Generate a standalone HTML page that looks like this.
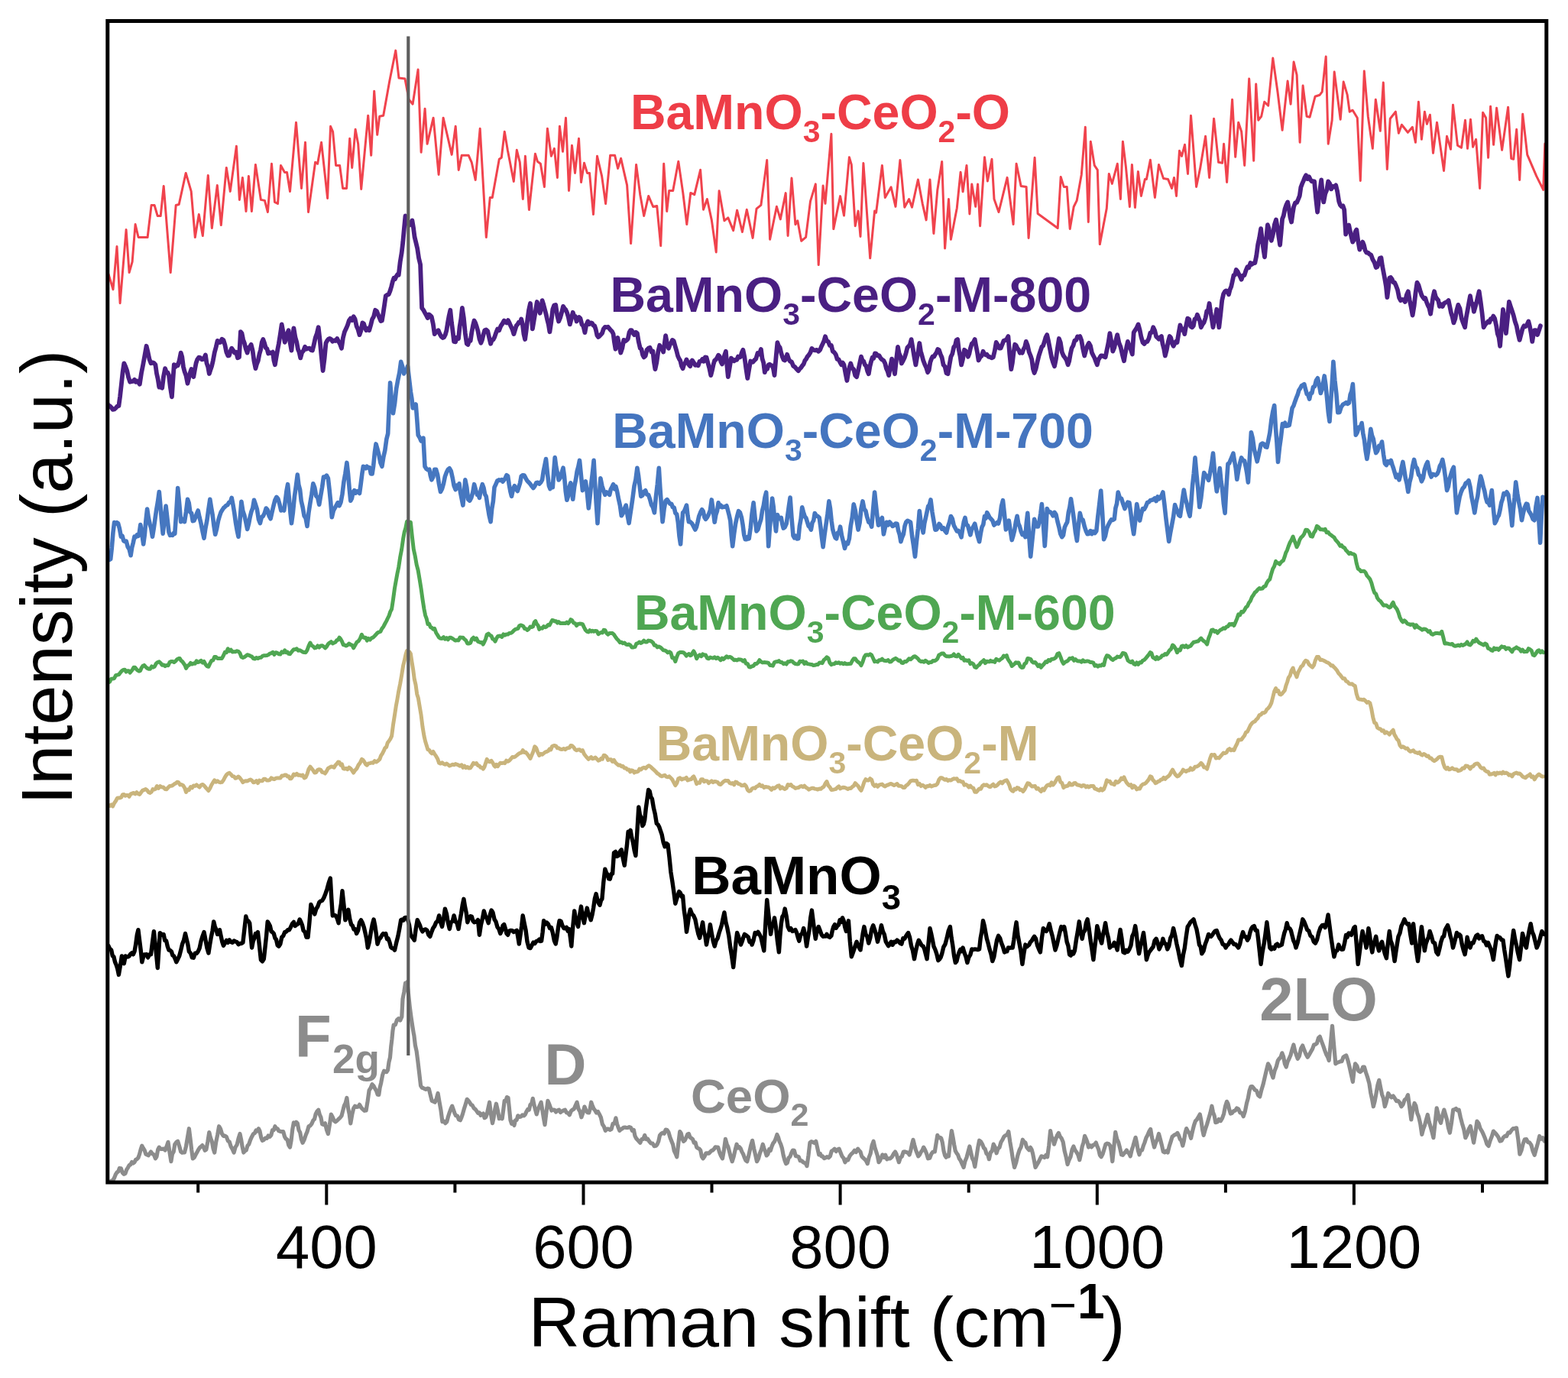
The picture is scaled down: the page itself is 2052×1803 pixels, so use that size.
<!DOCTYPE html>
<html><head><meta charset="utf-8"><title>Raman spectra</title>
<style>html,body{margin:0;padding:0;background:#fff;}svg{display:block;}</style>
</head><body>
<svg width="2052" height="1803" viewBox="0 0 2052 1803">
<rect width="2052" height="1803" fill="#fff"/>
<defs><clipPath id="c"><rect x="140.8" y="27.5" width="1883.0" height="1519.5"/></clipPath></defs>
<g clip-path="url(#c)" fill="none" stroke-linejoin="round" stroke-linecap="round">
<polyline points="145.7,1545.1 147.6,1544.6 149.6,1541.1 151.5,1536.3 153.1,1533.8 154.8,1532.9 156.4,1528.5 158.4,1528.9 160.3,1534.3 162.3,1536.3 164.0,1535.4 165.7,1530.4 167.4,1527.8 169.1,1524.6 170.8,1523.8 172.6,1520.5 174.3,1522.0 176.0,1520.7 177.6,1517.4 179.3,1516.6 180.9,1514.8 182.5,1510.3 184.2,1503.9 185.8,1499.2 187.5,1502.4 189.2,1505.2 190.9,1510.1 192.6,1510.9 194.2,1511.8 195.9,1509.2 197.5,1507.0 199.5,1509.7 201.4,1510.7 203.4,1515.8 205.0,1513.3 206.7,1504.0 208.3,1501.1 210.2,1503.4 212.2,1503.4 214.2,1503.1 216.1,1505.0 218.1,1500.0 220.0,1494.3 221.9,1507.0 223.9,1519.7 225.5,1509.9 227.2,1507.0 228.8,1497.2 230.8,1494.5 232.7,1493.3 234.7,1499.7 236.7,1507.0 238.3,1508.2 239.9,1508.0 241.5,1508.0 243.5,1499.8 245.4,1488.5 247.4,1476.7 249.0,1489.5 250.7,1504.3 252.3,1515.8 254.3,1514.3 256.2,1510.6 258.2,1507.0 259.8,1503.9 261.5,1501.5 263.1,1500.1 264.8,1498.6 266.5,1501.2 268.2,1505.2 269.9,1504.1 271.9,1493.4 273.8,1481.5 275.5,1488.8 277.2,1493.1 279.0,1502.6 280.7,1508.0 282.7,1494.4 284.6,1485.2 286.6,1473.7 288.6,1477.0 290.5,1483.5 292.4,1486.3 294.4,1486.1 296.3,1487.4 298.3,1492.7 300.2,1493.9 302.2,1500.2 304.1,1503.4 306.1,1508.0 308.1,1500.9 310.1,1497.9 312.0,1489.9 314.0,1483.5 315.6,1491.0 317.2,1500.8 318.8,1508.0 320.5,1505.8 322.2,1505.0 324.0,1499.0 325.7,1497.2 327.7,1491.3 329.6,1487.2 331.6,1483.5 333.3,1482.7 335.0,1479.0 336.7,1480.0 338.4,1476.7 340.0,1479.9 341.7,1488.3 343.3,1492.3 345.3,1491.4 347.2,1489.1 349.2,1489.4 351.1,1486.0 353.1,1487.4 354.8,1485.4 356.5,1478.7 358.2,1478.8 359.9,1473.7 361.5,1476.6 363.2,1476.9 364.8,1479.6 366.8,1480.4 368.7,1480.7 370.7,1480.6 372.5,1487.2 374.2,1490.1 376.0,1491.0 377.7,1498.1 379.5,1501.1 381.1,1492.2 382.8,1477.4 384.4,1468.8 386.0,1471.2 387.7,1468.2 389.3,1469.8 391.0,1478.6 392.7,1481.8 394.4,1490.9 396.1,1495.2 398.1,1491.4 400.1,1485.3 402.0,1480.8 404.0,1473.7 405.9,1473.0 407.9,1470.4 409.8,1465.9 411.5,1464.4 413.2,1457.4 415.0,1454.0 416.7,1452.2 418.3,1458.3 420.0,1462.1 421.6,1470.8 423.6,1471.6 425.5,1469.8 427.4,1478.0 429.4,1483.5 431.4,1471.6 433.3,1458.1 435.3,1461.8 437.2,1466.3 439.2,1467.8 441.1,1466.3 443.1,1464.2 445.1,1462.4 447.0,1460.0 448.7,1453.4 450.4,1446.7 452.2,1443.1 453.9,1436.5 455.5,1449.8 457.2,1457.8 458.8,1469.8 460.8,1458.2 462.7,1450.2 464.6,1447.2 466.6,1448.5 468.6,1448.2 470.5,1445.3 472.6,1449.1 474.8,1451.3 477.0,1453.3 479.1,1453.0 481.1,1440.9 483.1,1426.6 485.1,1423.5 487.0,1418.7 488.9,1420.7 490.9,1424.6 492.5,1427.2 494.2,1432.2 495.8,1432.4 497.2,1422.8 498.7,1416.8 500.6,1406.7 502.6,1401.1 504.2,1401.8 505.9,1402.6 507.5,1400.1 509.0,1389.5 510.5,1383.5 511.7,1369.6 512.9,1359.8 514.0,1348.3 515.2,1341.0 517.3,1341.0 519.4,1334.7 521.6,1332.7 523.7,1335.1 525.8,1330.5 527.0,1307.0 528.8,1297.9 530.5,1286.4 531.6,1286.8 532.8,1285.0 534.6,1301.6 536.4,1318.7 538.1,1331.4 539.9,1343.5 541.6,1353.9 541.8,1354.1 543.4,1367.6 545.1,1375.2 546.7,1387.4 548.7,1404.2 550.6,1420.7 552.2,1423.2 553.9,1423.6 555.5,1424.6 557.4,1425.4 559.4,1424.1 561.3,1424.6 563.2,1432.3 565.2,1440.3 567.2,1441.2 569.2,1442.2 571.2,1437.5 573.1,1430.5 575.0,1441.8 577.0,1452.8 578.9,1467.7 580.9,1466.8 582.8,1469.7 584.8,1467.7 586.5,1461.0 588.2,1455.8 590.0,1450.9 591.7,1447.1 593.3,1451.6 595.0,1456.6 596.6,1459.8 598.5,1460.1 600.5,1464.9 602.4,1465.7 603.9,1462.2 605.4,1457.9 607.3,1451.0 609.3,1444.7 611.2,1438.3 612.9,1440.0 614.7,1442.5 616.4,1445.4 618.1,1446.1 620.1,1449.9 622.0,1451.3 624.0,1454.0 625.7,1456.4 627.4,1455.8 629.1,1459.4 630.8,1457.9 632.4,1456.9 634.1,1462.7 635.7,1461.8 637.3,1457.6 639.0,1449.5 640.6,1442.2 642.5,1458.1 644.5,1469.6 646.1,1462.2 647.8,1451.0 649.4,1444.2 651.3,1452.5 653.3,1463.7 655.2,1462.4 657.2,1463.7 658.7,1452.5 660.2,1440.3 661.8,1440.9 663.4,1435.6 665.0,1436.3 666.5,1450.8 668.0,1465.7 669.6,1470.3 671.3,1468.0 672.9,1472.5 674.5,1465.8 676.2,1465.4 677.8,1459.8 679.8,1461.4 681.7,1461.0 683.6,1458.9 685.6,1459.8 687.3,1458.1 689.0,1454.4 690.7,1451.5 692.4,1452.0 694.0,1445.3 695.7,1444.1 697.3,1437.3 698.9,1445.4 700.6,1452.0 702.2,1457.9 704.2,1451.2 706.1,1446.9 708.1,1442.2 709.7,1451.7 711.4,1462.6 713.0,1471.6 715.0,1455.1 716.9,1440.3 718.5,1444.0 720.2,1448.6 721.8,1453.0 723.8,1452.0 725.7,1452.4 727.6,1455.0 729.6,1453.0 731.6,1452.2 733.5,1455.4 735.5,1453.8 737.5,1453.0 739.5,1452.2 741.4,1455.7 743.3,1456.4 745.3,1458.8 747.3,1453.7 749.2,1452.1 751.2,1451.0 753.1,1446.6 755.1,1442.2 757.0,1450.9 759.0,1454.4 760.9,1461.8 762.9,1456.2 764.9,1448.1 766.8,1452.6 768.8,1455.7 770.7,1455.9 772.2,1451.0 773.7,1442.2 775.4,1447.0 777.1,1450.9 778.8,1452.9 780.5,1455.9 782.5,1454.4 784.4,1457.9 786.4,1462.1 788.3,1470.8 790.3,1473.9 792.3,1479.4 794.2,1477.0 796.2,1477.2 798.1,1478.4 800.1,1477.4 802.0,1470.4 804.0,1470.1 805.9,1462.8 807.5,1470.5 809.2,1475.4 810.8,1479.4 812.6,1477.5 814.3,1476.8 816.1,1475.3 817.8,1475.0 819.6,1475.5 821.6,1475.5 823.5,1474.5 825.5,1475.4 827.4,1479.4 829.4,1478.4 830.9,1486.1 832.4,1489.2 834.2,1491.3 836.0,1493.2 837.8,1495.2 839.8,1490.7 841.7,1490.5 843.7,1485.5 845.7,1490.6 847.6,1490.1 849.6,1493.3 851.8,1495.9 854.0,1496.0 856.2,1499.6 858.4,1499.2 860.1,1497.2 861.8,1493.2 863.5,1485.4 865.2,1483.5 867.2,1482.2 869.2,1483.3 871.1,1478.1 873.1,1478.6 875.0,1481.7 877.0,1488.5 878.9,1493.3 880.6,1497.5 882.3,1505.9 884.1,1509.6 885.8,1513.8 887.8,1496.1 889.7,1480.6 891.3,1482.8 893.0,1490.1 894.6,1493.3 896.3,1492.0 898.0,1488.2 899.7,1484.2 901.4,1483.5 903.1,1488.1 904.8,1489.2 906.6,1490.8 908.3,1495.2 910.0,1494.8 911.7,1501.1 913.4,1502.4 915.1,1503.1 916.7,1505.1 918.4,1513.4 920.0,1515.8 922.0,1513.2 923.9,1508.8 925.9,1508.9 927.6,1509.2 929.3,1507.4 931.0,1505.7 932.7,1505.0 934.4,1503.4 936.2,1500.8 937.9,1501.1 939.6,1501.1 941.6,1507.8 943.5,1512.5 945.5,1515.8 947.5,1504.2 949.4,1490.4 951.2,1497.0 952.9,1500.6 954.7,1507.4 956.4,1514.2 958.2,1519.7 960.2,1513.2 962.1,1504.7 964.1,1497.2 965.8,1502.0 967.5,1500.7 969.2,1502.7 970.9,1507.0 972.6,1510.0 974.3,1514.6 976.0,1518.5 977.7,1519.7 979.4,1513.5 981.2,1505.4 982.9,1497.9 984.6,1492.3 986.6,1502.6 988.5,1510.7 990.5,1519.7 992.5,1516.0 994.4,1509.0 996.3,1504.3 998.3,1497.2 999.9,1502.6 1001.6,1506.9 1003.2,1511.9 1004.9,1510.2 1006.6,1503.7 1008.3,1505.4 1010.0,1500.1 1011.7,1495.9 1013.5,1493.8 1015.2,1489.7 1016.9,1484.5 1018.5,1488.1 1020.2,1493.9 1021.8,1497.2 1023.5,1502.6 1025.2,1511.8 1026.9,1518.0 1028.6,1522.6 1030.4,1521.3 1032.1,1514.9 1033.9,1513.4 1035.6,1508.9 1037.4,1505.0 1039.4,1505.4 1041.3,1512.7 1043.3,1512.9 1045.2,1513.6 1047.2,1518.7 1049.2,1518.8 1051.1,1520.7 1052.7,1521.5 1054.4,1522.4 1056.0,1525.6 1058.0,1511.5 1059.9,1495.2 1061.9,1493.7 1063.8,1494.4 1065.8,1495.4 1067.8,1493.3 1069.8,1502.4 1071.7,1510.9 1073.3,1509.4 1075.0,1512.8 1076.6,1512.9 1078.5,1515.6 1080.5,1514.8 1082.5,1513.6 1084.4,1514.8 1086.4,1512.7 1088.3,1506.0 1090.3,1505.0 1092.2,1503.2 1094.2,1506.5 1096.1,1504.0 1098.1,1503.1 1100.0,1508.0 1102.0,1512.9 1104.0,1515.3 1105.9,1520.7 1107.9,1517.2 1109.8,1517.8 1111.8,1512.9 1114.0,1510.0 1116.1,1508.3 1118.3,1505.2 1120.4,1507.4 1122.6,1503.1 1124.3,1505.3 1126.0,1507.0 1127.7,1512.9 1129.4,1514.8 1131.4,1516.6 1133.3,1518.5 1135.3,1522.6 1137.2,1514.4 1139.2,1509.2 1141.1,1498.6 1143.1,1493.3 1144.8,1501.1 1146.5,1506.2 1148.3,1512.1 1150.0,1520.7 1151.6,1518.6 1153.3,1514.6 1154.9,1510.9 1156.9,1514.4 1158.8,1511.3 1160.8,1516.8 1162.7,1515.8 1164.9,1515.9 1167.1,1513.9 1169.3,1509.9 1171.5,1507.0 1173.1,1509.9 1174.8,1515.8 1176.4,1520.7 1178.4,1514.7 1180.3,1513.1 1182.3,1507.0 1184.2,1506.8 1186.2,1507.6 1188.1,1508.2 1190.1,1510.9 1191.7,1505.7 1193.4,1497.7 1195.0,1491.3 1196.7,1498.1 1198.4,1504.3 1200.1,1508.8 1201.8,1512.9 1203.5,1510.9 1205.2,1507.4 1207.0,1505.2 1208.7,1501.1 1210.6,1504.5 1212.6,1509.4 1214.5,1515.8 1216.7,1515.3 1218.9,1509.6 1221.1,1507.0 1223.3,1507.0 1225.0,1496.3 1226.8,1485.4 1228.4,1488.8 1230.1,1488.3 1231.7,1489.3 1233.3,1494.8 1235.0,1505.9 1236.6,1511.8 1238.2,1514.2 1239.9,1511.7 1241.5,1512.8 1243.5,1493.8 1245.4,1479.5 1247.0,1487.7 1248.7,1497.8 1250.3,1505.9 1251.9,1508.7 1253.6,1511.0 1255.2,1515.7 1257.2,1518.6 1259.1,1523.0 1261.1,1527.4 1263.0,1519.2 1265.0,1514.5 1267.0,1507.0 1268.9,1500.0 1270.6,1507.7 1272.3,1515.3 1274.1,1518.8 1275.8,1526.5 1277.7,1514.8 1279.7,1501.8 1281.6,1492.2 1283.6,1493.8 1285.5,1497.1 1287.5,1502.0 1289.2,1503.5 1291.0,1509.4 1292.7,1510.7 1294.4,1516.7 1296.3,1507.9 1298.3,1506.0 1300.2,1497.1 1302.2,1500.9 1304.1,1508.8 1306.1,1502.9 1308.0,1501.2 1310.0,1494.3 1312.0,1491.2 1314.0,1487.0 1315.9,1485.6 1317.8,1484.9 1319.8,1480.5 1321.8,1494.0 1323.7,1504.9 1325.6,1517.5 1327.6,1527.4 1329.8,1520.9 1331.9,1511.6 1334.1,1504.7 1336.2,1500.7 1338.4,1491.2 1340.1,1494.1 1341.8,1494.8 1343.5,1500.9 1345.2,1503.0 1346.8,1504.8 1348.5,1501.3 1350.1,1504.0 1351.7,1509.9 1353.4,1518.4 1355.0,1527.4 1357.0,1523.9 1359.0,1520.6 1360.9,1516.7 1362.9,1512.8 1364.9,1513.4 1366.8,1514.5 1368.8,1511.6 1370.7,1513.7 1372.7,1498.8 1374.6,1479.5 1376.2,1487.7 1377.9,1489.9 1379.5,1497.1 1381.5,1491.0 1383.4,1485.7 1385.4,1482.4 1387.3,1487.2 1389.3,1489.7 1391.2,1494.2 1393.2,1506.2 1395.1,1513.5 1397.1,1523.5 1399.0,1517.8 1401.0,1513.6 1403.0,1504.3 1404.9,1500.0 1406.9,1504.9 1408.8,1507.5 1410.8,1511.0 1412.8,1517.7 1414.5,1510.0 1416.2,1500.2 1417.9,1495.1 1419.6,1486.3 1421.2,1489.8 1422.9,1494.2 1424.5,1501.0 1426.5,1498.7 1428.4,1500.9 1430.4,1498.3 1432.3,1497.8 1434.3,1495.1 1436.0,1500.0 1437.7,1504.1 1439.4,1511.5 1441.1,1513.7 1443.1,1510.1 1445.0,1503.8 1447.0,1497.1 1449.0,1496.1 1450.9,1496.8 1452.9,1499.1 1454.3,1506.9 1455.8,1519.6 1457.8,1500.3 1459.7,1481.4 1461.7,1490.3 1463.7,1494.6 1465.6,1502.0 1467.6,1510.8 1469.3,1511.3 1471.0,1509.1 1472.7,1507.4 1474.4,1504.9 1476.0,1507.9 1477.7,1509.4 1479.3,1512.8 1481.0,1505.1 1482.7,1500.0 1484.4,1493.9 1486.1,1488.3 1487.7,1495.6 1489.4,1505.6 1491.0,1510.8 1492.7,1505.0 1494.5,1504.9 1496.2,1499.4 1497.9,1495.1 1499.9,1488.7 1501.8,1485.3 1503.8,1480.5 1505.7,1477.5 1507.3,1487.3 1509.0,1494.8 1510.6,1501.0 1512.6,1494.6 1514.5,1490.7 1516.5,1483.4 1518.4,1490.5 1520.4,1498.3 1522.3,1506.9 1524.3,1507.8 1526.2,1506.0 1528.2,1507.9 1530.2,1499.8 1532.1,1493.9 1534.1,1487.3 1535.8,1485.9 1537.5,1484.7 1539.2,1484.1 1540.9,1482.4 1542.6,1485.7 1544.3,1490.6 1546.1,1492.6 1547.8,1499.1 1549.4,1492.6 1551.1,1481.9 1552.7,1476.6 1554.7,1480.4 1556.6,1482.7 1558.6,1489.3 1560.5,1480.4 1562.5,1472.3 1564.4,1466.8 1566.4,1464.7 1568.3,1461.5 1570.3,1458.0 1571.9,1466.0 1573.6,1478.2 1575.2,1485.4 1577.3,1477.8 1579.5,1471.2 1581.6,1464.1 1583.8,1456.5 1585.9,1447.2 1587.5,1455.3 1589.2,1459.9 1590.8,1468.7 1593.0,1468.1 1595.2,1464.4 1597.4,1466.6 1599.6,1462.9 1601.6,1457.3 1603.5,1447.5 1605.5,1441.3 1607.1,1444.2 1608.8,1451.9 1610.4,1457.0 1612.5,1456.2 1614.5,1453.7 1616.5,1453.1 1618.6,1449.9 1620.8,1451.3 1622.9,1455.9 1625.0,1456.2 1627.2,1460.7 1629.3,1454.4 1631.5,1443.5 1633.3,1437.0 1635.1,1427.0 1636.9,1421.9 1638.7,1421.5 1640.5,1423.6 1642.3,1426.2 1644.4,1427.1 1646.6,1433.0 1648.7,1434.9 1650.9,1425.9 1653.0,1419.1 1655.2,1409.6 1657.3,1400.5 1659.5,1391.8 1661.7,1395.5 1663.8,1403.8 1666.0,1410.1 1668.1,1400.9 1670.3,1395.5 1672.4,1387.5 1674.2,1385.1 1676.0,1383.2 1677.8,1377.8 1679.6,1382.4 1681.4,1391.9 1683.2,1396.1 1685.1,1389.1 1687.1,1385.0 1689.0,1380.5 1691.0,1373.1 1692.9,1367.0 1694.7,1375.0 1696.5,1380.5 1698.3,1385.3 1700.4,1381.6 1702.6,1371.7 1704.7,1368.1 1706.9,1374.1 1709.0,1379.2 1711.2,1383.2 1713.3,1380.1 1715.5,1376.1 1717.6,1372.4 1719.5,1367.1 1721.5,1366.6 1723.4,1365.0 1725.4,1358.2 1727.3,1356.3 1729.5,1362.5 1731.6,1368.2 1733.8,1374.6 1735.6,1379.4 1737.4,1382.7 1739.2,1387.5 1741.3,1365.9 1743.5,1342.3 1745.7,1368.3 1747.8,1391.8 1749.9,1390.4 1752.1,1389.6 1754.0,1388.8 1756.0,1388.7 1757.9,1383.4 1759.9,1381.8 1761.8,1381.0 1764.0,1387.6 1766.1,1396.1 1768.2,1405.8 1770.4,1415.5 1772.0,1401.3 1773.6,1391.8 1775.8,1394.6 1777.9,1401.3 1780.1,1402.6 1781.9,1401.1 1783.6,1396.0 1785.4,1396.1 1787.6,1403.5 1789.7,1409.7 1791.9,1417.6 1793.7,1429.7 1795.5,1437.9 1797.3,1447.8 1799.2,1440.5 1801.0,1430.8 1802.9,1419.8 1804.8,1413.3 1806.7,1422.9 1808.5,1431.8 1810.4,1436.9 1812.3,1447.8 1813.8,1443.3 1815.2,1437.3 1816.7,1430.5 1818.8,1433.7 1821.0,1435.8 1823.2,1433.9 1825.3,1437.0 1827.5,1440.6 1829.6,1440.3 1831.8,1442.8 1833.9,1447.8 1836.1,1445.1 1838.2,1439.0 1840.3,1437.5 1842.5,1432.7 1844.7,1449.1 1846.8,1465.0 1848.9,1452.0 1851.1,1443.5 1852.9,1447.0 1854.7,1456.4 1856.5,1460.7 1858.7,1470.2 1860.8,1484.4 1862.7,1477.2 1864.5,1472.3 1866.4,1465.1 1868.3,1458.5 1870.2,1467.7 1872.1,1474.0 1874.0,1481.2 1875.9,1488.7 1878.1,1469.0 1880.2,1449.9 1882.0,1457.2 1883.7,1465.3 1885.5,1469.3 1887.7,1459.6 1889.8,1452.1 1891.7,1458.5 1893.6,1465.3 1895.5,1476.0 1897.4,1482.2 1899.6,1468.6 1901.7,1452.1 1903.6,1451.7 1905.5,1450.4 1907.3,1452.9 1909.2,1452.1 1911.3,1461.9 1913.5,1470.2 1915.7,1477.5 1917.8,1488.7 1920.0,1484.4 1922.1,1477.5 1924.3,1473.6 1926.4,1483.4 1928.6,1495.1 1930.8,1482.3 1932.9,1467.1 1935.1,1469.9 1937.2,1476.7 1939.4,1480.1 1941.6,1484.9 1943.7,1489.9 1945.8,1496.8 1948.0,1499.4 1950.1,1492.5 1952.3,1486.9 1954.4,1480.1 1956.6,1482.3 1958.7,1484.7 1960.8,1487.7 1963.0,1493.0 1965.2,1492.4 1967.3,1488.4 1969.5,1486.4 1971.6,1486.7 1973.8,1481.9 1975.9,1482.2 1978.1,1478.8 1980.2,1476.6 1982.4,1476.3 1984.6,1475.8 1986.8,1490.8 1988.9,1510.2 1991.0,1505.3 1993.2,1496.4 1995.3,1490.8 1997.5,1490.6 1999.6,1494.4 2001.8,1495.1 2003.9,1498.2 2006.1,1506.3 2008.2,1511.3 2010.4,1503.2 2012.5,1495.9 2014.7,1486.5 2016.9,1490.3 2019.0,1488.7 2021.2,1493.0" stroke="#8c8c8c" stroke-width="5.2"/>
<polyline points="141.7,1237.2 143.7,1241.4 145.7,1243.1 147.3,1250.8 148.9,1251.8 150.5,1258.7 152.1,1262.3 153.8,1267.6 155.4,1275.4 157.4,1263.6 159.4,1250.9 160.9,1256.2 162.3,1260.7 164.2,1250.9 165.8,1252.1 167.5,1251.9 169.1,1250.9 170.8,1248.3 172.6,1246.8 174.3,1248.8 176.0,1245.0 177.6,1236.1 179.3,1223.3 180.9,1216.7 182.5,1229.6 184.2,1243.0 185.8,1258.7 187.2,1253.3 188.7,1248.9 190.3,1248.9 192.0,1248.7 193.6,1252.9 195.6,1248.9 197.5,1248.9 199.4,1233.7 201.4,1218.6 203.0,1234.6 204.7,1250.3 206.3,1266.6 207.8,1243.6 209.3,1220.6 210.9,1221.9 212.5,1223.4 214.1,1222.5 215.8,1230.6 217.6,1231.0 219.3,1238.3 221.0,1243.1 222.6,1243.4 224.3,1244.9 225.9,1249.9 227.5,1250.8 229.2,1254.6 230.8,1258.7 232.8,1254.7 234.7,1250.8 236.7,1243.1 238.6,1235.2 240.6,1229.9 242.5,1221.5 244.1,1228.5 245.8,1235.5 247.4,1245.0 249.4,1247.3 251.3,1252.9 253.3,1253.2 255.2,1247.3 257.2,1247.4 259.2,1245.0 261.1,1240.7 263.1,1231.3 265.1,1224.9 267.0,1219.6 269.0,1229.8 270.9,1240.2 272.9,1247.0 274.6,1236.2 276.3,1226.1 278.0,1218.2 279.7,1205.9 281.3,1212.4 283.0,1216.6 284.6,1222.5 286.1,1221.5 287.5,1216.7 289.1,1224.6 290.8,1232.3 292.4,1237.2 294.4,1234.1 296.3,1230.4 298.3,1233.3 300.2,1229.9 302.2,1232.5 304.2,1233.3 306.2,1231.0 308.1,1232.0 310.1,1232.6 312.0,1235.7 314.0,1234.4 315.9,1234.5 317.9,1233.3 319.9,1215.6 321.8,1199.0 323.4,1204.6 325.1,1205.1 326.7,1207.8 328.1,1223.6 329.6,1240.1 331.2,1231.8 332.9,1227.5 334.5,1221.5 335.9,1222.6 337.4,1219.6 339.4,1236.9 341.4,1255.8 343.4,1257.8 345.3,1254.8 346.9,1240.3 348.6,1224.3 350.2,1205.9 351.8,1208.5 353.4,1211.5 355.0,1218.6 356.6,1219.6 358.3,1221.5 359.9,1227.4 361.5,1229.3 363.2,1236.8 364.8,1238.2 366.8,1235.2 368.8,1226.1 370.7,1224.6 372.7,1219.6 374.6,1219.1 376.6,1216.8 378.5,1216.7 380.4,1213.2 382.4,1208.8 384.4,1206.4 386.3,1211.5 388.3,1209.8 390.2,1208.7 392.2,1203.0 393.8,1206.2 395.5,1210.5 397.1,1217.6 399.1,1219.4 401.0,1226.4 403.0,1226.4 404.9,1207.3 406.9,1183.4 408.5,1187.5 410.2,1192.9 411.8,1196.1 413.8,1189.3 415.7,1186.3 417.7,1180.8 419.6,1179.0 421.6,1178.5 423.7,1174.9 425.9,1169.4 428.0,1163.3 430.2,1155.2 432.3,1149.1 433.8,1175.4 435.3,1198.1 437.2,1197.3 439.2,1198.1 441.1,1201.3 443.1,1207.8 444.7,1192.6 446.4,1182.7 448.0,1165.8 449.9,1183.5 451.9,1203.9 453.9,1196.2 455.8,1190.2 457.8,1202.7 459.7,1209.8 461.4,1211.3 463.1,1216.1 464.9,1215.8 466.6,1221.5 468.6,1217.5 470.5,1207.2 472.5,1203.9 474.4,1207.5 476.4,1213.7 478.0,1220.6 479.7,1228.4 481.3,1240.1 483.2,1233.1 485.2,1220.6 487.2,1210.0 489.1,1203.0 490.7,1210.9 492.4,1222.3 494.0,1235.2 496.0,1229.1 497.9,1227.1 499.9,1223.5 501.5,1221.6 503.2,1222.8 504.8,1221.5 506.5,1228.7 508.2,1228.1 509.9,1232.9 511.6,1239.2 513.2,1240.7 514.9,1241.0 516.5,1243.1 518.6,1233.8 520.8,1225.3 522.8,1214.9 524.7,1203.7 526.3,1203.1 528.0,1204.1 529.6,1200.8 531.5,1200.4 533.5,1202.8 535.5,1210.1 537.4,1223.3 539.0,1225.6 540.7,1227.8 542.3,1230.2 544.2,1215.4 546.2,1203.7 547.8,1207.0 549.5,1210.7 551.1,1215.5 553.0,1218.8 555.0,1216.5 557.0,1215.9 558.9,1217.4 560.8,1223.2 562.8,1225.3 564.8,1219.4 566.7,1214.5 568.7,1211.6 570.7,1206.9 572.6,1205.4 574.6,1197.9 576.5,1206.4 578.5,1212.5 580.5,1202.4 582.4,1189.1 584.4,1195.5 586.3,1206.9 588.3,1215.5 590.2,1206.7 592.2,1205.5 594.1,1197.9 596.1,1205.9 598.0,1207.5 600.0,1215.5 601.7,1205.2 603.5,1195.4 605.2,1184.3 606.9,1176.3 608.5,1186.1 610.2,1194.2 611.8,1206.7 613.8,1200.9 615.7,1198.8 617.3,1199.1 619.0,1204.9 620.6,1206.7 622.2,1206.0 623.9,1206.3 625.5,1203.7 627.4,1223.3 629.4,1210.0 631.3,1202.4 633.3,1192.0 635.3,1198.8 637.2,1201.8 639.2,1207.7 641.2,1197.6 643.1,1191.0 645.0,1194.0 647.0,1202.9 648.9,1205.7 650.9,1212.8 652.8,1215.4 654.8,1221.4 656.4,1217.8 658.1,1211.0 659.7,1209.6 661.3,1214.7 663.0,1221.5 664.6,1223.3 666.5,1218.0 668.5,1217.4 670.5,1217.6 672.4,1219.5 674.3,1218.4 676.3,1217.4 677.8,1225.7 679.3,1235.0 680.9,1223.8 682.6,1212.1 684.2,1197.9 686.2,1208.3 688.1,1217.4 690.0,1232.3 692.0,1239.9 694.0,1240.6 695.9,1237.1 697.9,1233.1 699.9,1234.4 701.8,1231.5 703.8,1231.0 705.7,1229.2 707.2,1231.5 708.6,1231.1 710.1,1220.0 711.6,1204.7 713.6,1209.3 715.5,1207.1 717.5,1209.2 719.4,1214.4 721.4,1213.5 723.3,1220.2 725.3,1230.6 727.2,1235.0 728.8,1226.4 730.5,1213.8 732.1,1204.7 734.1,1205.3 736.0,1211.2 738.0,1214.5 739.7,1214.9 741.4,1213.3 743.1,1218.2 744.8,1215.5 746.3,1226.0 747.8,1238.0 749.8,1212.0 751.7,1192.0 753.3,1201.6 755.0,1207.5 756.6,1212.5 758.5,1198.0 760.5,1186.1 762.5,1198.9 764.4,1207.7 766.3,1197.1 768.3,1188.1 769.9,1194.9 771.6,1198.8 773.2,1203.7 774.9,1197.4 776.7,1187.4 778.4,1175.6 780.1,1169.5 781.7,1176.6 783.4,1181.8 785.0,1184.2 786.5,1178.0 787.9,1176.3 789.8,1154.2 791.8,1137.2 793.4,1141.5 795.1,1144.4 796.7,1149.9 798.3,1150.2 800.0,1143.4 801.6,1143.1 803.5,1115.7 805.5,1114.4 807.4,1120.4 809.4,1119.6 811.3,1114.2 813.3,1111.8 815.2,1122.7 817.2,1132.3 818.8,1119.5 820.5,1105.4 822.1,1088.3 823.6,1088.3 825.1,1086.3 826.8,1096.1 828.5,1102.7 830.2,1112.9 831.9,1119.6 833.8,1088.8 835.8,1056.0 837.4,1066.2 839.1,1070.1 840.7,1080.5 842.2,1078.6 843.7,1072.6 845.3,1057.4 847.0,1045.5 848.6,1033.5 850.2,1035.3 851.8,1042.7 853.4,1045.2 855.4,1057.2 857.3,1065.2 859.3,1077.5 860.9,1078.6 862.6,1081.7 864.2,1086.3 866.2,1092.2 868.1,1102.0 870.1,1107.8 872.0,1103.5 874.0,1104.9 876.0,1122.0 877.9,1141.1 879.9,1153.6 881.8,1166.9 883.8,1182.2 885.4,1176.8 887.1,1171.4 888.7,1166.6 890.3,1168.2 892.0,1173.0 893.6,1172.4 895.2,1190.5 896.9,1202.5 898.5,1219.4 900.1,1209.3 901.7,1196.9 903.3,1190.0 905.5,1195.8 907.6,1197.9 909.8,1202.8 911.8,1212.9 913.7,1221.5 915.7,1227.3 917.7,1216.3 919.6,1206.8 921.2,1219.0 922.9,1224.9 924.5,1236.1 926.1,1227.9 927.8,1221.1 929.4,1209.7 931.3,1220.9 933.3,1231.5 935.2,1238.1 937.2,1230.7 939.1,1227.8 941.1,1220.5 942.8,1215.5 944.5,1210.1 946.2,1201.6 947.9,1194.0 949.9,1206.7 951.8,1214.2 953.8,1224.4 955.8,1239.8 957.7,1251.3 959.7,1265.5 961.3,1250.0 963.0,1233.3 964.6,1220.5 966.2,1224.7 967.9,1230.7 969.5,1236.1 971.1,1232.1 972.8,1226.5 974.4,1222.4 976.0,1223.5 977.7,1224.8 979.3,1226.3 980.9,1232.4 982.5,1231.3 984.1,1236.1 986.1,1230.3 988.1,1220.5 990.0,1222.0 992.0,1219.4 993.9,1222.4 995.9,1226.6 997.8,1235.1 999.8,1243.9 1001.8,1208.8 1003.7,1177.4 1005.3,1191.8 1007.0,1207.6 1008.6,1222.4 1010.2,1212.3 1011.9,1209.5 1013.5,1200.9 1015.5,1213.7 1017.4,1231.2 1019.4,1245.9 1020.8,1225.3 1022.3,1208.7 1023.9,1199.2 1025.6,1196.8 1027.2,1189.1 1029.2,1199.0 1031.1,1212.6 1033.1,1216.8 1035.0,1214.7 1037.0,1218.5 1039.0,1217.9 1040.9,1216.5 1042.5,1220.0 1044.2,1226.4 1045.8,1231.2 1047.8,1223.2 1049.7,1221.4 1051.7,1214.6 1053.7,1224.1 1055.6,1238.1 1057.3,1227.1 1059.0,1217.5 1060.7,1200.9 1062.4,1191.1 1064.0,1203.6 1065.7,1217.3 1067.3,1228.3 1069.2,1217.7 1071.2,1212.6 1073.2,1217.6 1075.1,1222.9 1077.1,1225.3 1078.7,1224.9 1080.4,1225.1 1082.0,1222.4 1084.0,1225.4 1085.9,1226.4 1087.9,1224.4 1089.3,1217.6 1090.8,1212.6 1092.4,1209.7 1094.1,1214.3 1095.7,1211.6 1097.4,1210.2 1099.1,1203.7 1100.8,1206.5 1102.5,1200.9 1104.1,1204.6 1105.8,1213.3 1107.4,1218.5 1108.9,1211.5 1110.4,1204.8 1112.3,1231.2 1114.3,1251.8 1116.0,1247.2 1117.7,1242.4 1119.4,1236.9 1121.1,1232.2 1122.7,1236.4 1124.4,1240.2 1126.0,1243.0 1127.6,1232.6 1129.3,1220.7 1130.9,1212.6 1132.9,1222.3 1134.8,1225.4 1136.8,1234.1 1138.8,1227.2 1140.7,1215.9 1142.7,1210.7 1144.6,1216.3 1146.6,1223.0 1148.5,1232.2 1150.1,1226.4 1151.8,1219.0 1153.4,1210.7 1155.4,1218.7 1157.3,1222.6 1159.3,1232.2 1160.9,1234.8 1162.6,1237.7 1164.2,1236.1 1166.2,1232.2 1168.1,1236.3 1170.1,1232.2 1172.0,1232.8 1174.0,1230.2 1176.0,1231.7 1177.9,1234.1 1179.9,1235.1 1181.8,1227.8 1183.8,1228.3 1185.4,1225.2 1187.0,1222.7 1188.6,1220.5 1190.6,1226.7 1192.5,1237.4 1194.5,1243.7 1196.5,1254.7 1198.4,1244.6 1200.4,1235.8 1202.3,1230.2 1204.3,1233.6 1206.2,1237.0 1208.2,1238.1 1209.8,1241.9 1211.5,1248.7 1213.1,1254.7 1215.0,1234.8 1217.0,1214.6 1218.6,1221.4 1220.3,1229.5 1221.9,1238.1 1223.9,1242.5 1225.8,1248.2 1227.8,1256.7 1229.4,1255.1 1231.1,1252.7 1232.7,1247.8 1234.8,1239.2 1237.0,1235.4 1239.1,1227.5 1241.3,1217.7 1243.4,1212.6 1245.1,1226.8 1246.8,1237.0 1248.6,1250.8 1250.3,1259.6 1251.9,1257.8 1253.6,1250.9 1255.2,1245.9 1256.8,1242.3 1258.5,1244.6 1260.1,1240.0 1262.0,1246.5 1264.0,1251.7 1265.9,1259.6 1267.9,1252.4 1269.8,1249.4 1271.8,1242.0 1273.8,1242.3 1275.7,1242.0 1277.7,1242.1 1279.6,1242.6 1281.6,1242.0 1283.2,1227.4 1284.9,1218.3 1286.5,1204.8 1288.1,1210.6 1289.8,1220.1 1291.4,1228.3 1293.2,1234.6 1295.1,1242.3 1297.0,1248.4 1298.8,1257.6 1300.8,1252.1 1302.7,1240.5 1304.6,1230.0 1306.6,1224.4 1308.6,1227.4 1310.5,1233.7 1312.5,1238.7 1314.5,1245.9 1316.1,1244.9 1317.8,1244.9 1319.4,1240.0 1321.3,1240.4 1323.3,1239.9 1325.2,1240.0 1326.8,1229.8 1328.5,1216.8 1330.1,1206.8 1332.0,1223.4 1334.0,1234.3 1336.0,1245.2 1337.9,1261.5 1339.9,1247.3 1341.9,1236.1 1343.5,1239.0 1345.2,1237.4 1346.8,1236.1 1348.5,1232.5 1350.2,1231.0 1351.9,1227.7 1353.6,1225.3 1355.5,1228.0 1357.5,1236.7 1359.5,1241.8 1361.4,1245.9 1363.3,1228.2 1365.3,1214.6 1367.3,1216.6 1369.3,1218.5 1371.2,1215.2 1373.2,1208.7 1375.2,1217.4 1377.1,1224.3 1379.0,1233.1 1381.0,1243.0 1383.0,1236.8 1384.9,1228.4 1386.8,1220.3 1388.8,1212.6 1390.8,1215.3 1392.7,1212.6 1394.4,1221.1 1396.2,1232.5 1397.9,1237.4 1399.6,1248.8 1401.3,1250.2 1403.0,1245.3 1404.7,1248.0 1406.4,1243.9 1408.4,1230.0 1410.3,1219.3 1412.3,1205.8 1414.2,1219.3 1416.2,1228.3 1417.9,1219.5 1419.7,1217.8 1421.4,1207.5 1423.1,1202.8 1425.0,1214.2 1427.0,1229.5 1429.0,1242.4 1430.9,1255.7 1432.5,1241.3 1434.2,1227.4 1435.8,1211.6 1437.8,1219.0 1439.7,1228.1 1441.7,1234.1 1443.3,1224.1 1445.0,1216.3 1446.6,1207.7 1448.5,1219.4 1450.5,1227.5 1452.4,1240.0 1454.4,1237.7 1456.3,1237.6 1458.3,1233.2 1460.2,1237.1 1462.2,1243.0 1464.2,1228.4 1466.1,1216.5 1468.0,1228.3 1470.0,1245.9 1472.0,1246.8 1474.0,1243.4 1475.9,1245.2 1477.9,1242.0 1479.9,1237.3 1481.8,1224.9 1483.8,1220.7 1485.7,1211.6 1487.3,1221.9 1489.0,1238.5 1490.6,1247.8 1492.6,1237.6 1494.5,1230.0 1496.5,1220.5 1498.5,1236.4 1500.4,1255.7 1502.0,1250.3 1503.7,1245.9 1505.3,1243.9 1507.2,1241.2 1509.2,1238.7 1511.1,1230.7 1513.1,1228.3 1515.0,1233.4 1517.0,1242.0 1518.6,1238.4 1520.3,1234.6 1521.9,1228.3 1523.9,1234.3 1525.8,1235.0 1527.8,1242.0 1529.8,1237.6 1531.7,1227.5 1533.6,1223.8 1535.6,1214.6 1537.8,1224.0 1539.9,1235.0 1542.1,1244.4 1544.2,1255.0 1546.4,1263.5 1548.4,1249.5 1550.3,1240.5 1552.2,1226.0 1554.2,1212.6 1556.2,1209.8 1558.1,1206.3 1560.0,1204.8 1562.0,1202.8 1564.0,1209.8 1565.9,1215.6 1567.9,1226.3 1569.5,1236.2 1571.2,1238.6 1572.8,1247.8 1575.0,1244.4 1577.2,1235.4 1579.4,1229.7 1581.6,1222.4 1583.2,1224.9 1584.9,1225.4 1586.5,1223.4 1588.4,1220.3 1590.4,1218.0 1592.3,1217.5 1594.3,1223.4 1596.2,1227.6 1598.2,1230.2 1600.2,1235.6 1602.1,1236.1 1604.1,1240.0 1605.8,1237.0 1607.5,1235.7 1609.2,1232.4 1610.9,1230.2 1612.9,1232.8 1614.8,1235.6 1616.8,1235.4 1618.7,1237.5 1620.7,1240.0 1622.7,1234.9 1624.6,1226.0 1626.6,1219.5 1628.6,1225.6 1630.5,1225.7 1632.5,1230.2 1634.2,1227.4 1635.9,1220.0 1637.6,1215.2 1639.3,1212.6 1641.3,1211.5 1643.2,1217.4 1645.2,1217.5 1646.8,1230.3 1648.5,1246.0 1650.1,1261.5 1652.0,1246.4 1654.0,1235.8 1656.0,1222.1 1657.9,1206.8 1659.8,1222.4 1661.8,1240.0 1663.8,1242.0 1665.7,1239.5 1667.7,1241.3 1669.6,1236.5 1671.5,1235.1 1673.5,1238.0 1675.5,1236.9 1677.4,1236.1 1679.1,1227.8 1680.8,1220.6 1682.5,1215.9 1684.2,1207.7 1685.9,1214.4 1687.7,1214.6 1689.4,1217.6 1691.1,1224.4 1692.7,1230.5 1694.4,1234.1 1696.0,1240.0 1698.2,1233.1 1700.4,1223.5 1702.6,1213.9 1704.8,1202.8 1706.8,1206.2 1708.7,1211.0 1710.7,1216.5 1712.8,1218.0 1715.0,1224.5 1717.1,1225.8 1719.3,1232.0 1721.4,1234.1 1723.6,1229.5 1725.8,1220.1 1728.0,1213.8 1730.2,1210.7 1732.2,1210.3 1734.1,1213.6 1736.1,1207.6 1738.1,1197.0 1740.0,1211.7 1742.0,1227.0 1744.0,1240.1 1745.9,1251.8 1747.9,1244.3 1749.8,1243.9 1751.8,1236.1 1753.7,1240.8 1755.7,1242.2 1757.6,1242.0 1759.5,1234.4 1761.5,1223.4 1763.2,1226.2 1765.0,1221.0 1766.7,1221.3 1768.4,1223.4 1770.0,1219.0 1771.7,1214.0 1773.3,1212.6 1775.2,1235.1 1777.2,1261.5 1779.2,1246.3 1781.1,1231.5 1783.1,1218.5 1784.7,1225.8 1786.4,1230.7 1788.0,1240.0 1789.5,1227.3 1790.9,1214.6 1792.5,1223.5 1794.2,1237.8 1795.8,1245.9 1797.4,1236.4 1799.1,1230.7 1800.7,1225.3 1802.7,1237.1 1804.6,1243.9 1806.5,1237.1 1808.5,1232.2 1810.5,1240.7 1812.4,1248.1 1814.4,1253.7 1816.3,1234.6 1818.3,1218.5 1820.0,1231.0 1821.7,1235.5 1823.4,1245.5 1825.1,1257.6 1826.7,1246.4 1828.4,1235.1 1830.0,1225.3 1832.0,1220.9 1834.0,1211.4 1835.9,1207.7 1837.9,1202.8 1839.8,1207.0 1841.8,1209.3 1843.7,1208.7 1845.7,1222.5 1847.7,1234.1 1849.6,1208.7 1851.6,1227.0 1853.5,1244.2 1855.5,1257.6 1857.1,1244.8 1858.8,1227.1 1860.4,1212.6 1862.3,1227.8 1864.3,1243.9 1866.0,1234.9 1867.7,1230.0 1869.4,1226.3 1871.1,1218.5 1873.3,1224.9 1875.4,1232.9 1877.6,1233.9 1879.7,1245.7 1881.9,1248.8 1883.9,1241.1 1885.8,1232.4 1887.8,1226.3 1889.5,1225.1 1891.2,1216.8 1892.9,1213.6 1894.6,1210.7 1896.3,1216.2 1898.0,1224.5 1899.8,1230.2 1901.5,1240.0 1903.1,1234.3 1904.8,1227.6 1906.4,1220.5 1908.0,1224.6 1909.7,1222.6 1911.3,1224.4 1913.2,1235.4 1915.2,1243.1 1917.1,1248.8 1918.6,1239.9 1920.1,1226.3 1922.0,1234.8 1924.0,1240.0 1926.0,1233.8 1927.9,1233.9 1929.8,1229.0 1931.8,1224.4 1933.8,1223.0 1935.7,1228.0 1937.7,1225.3 1939.6,1224.8 1941.6,1231.3 1943.5,1232.2 1945.5,1236.8 1947.4,1233.3 1949.4,1238.1 1951.0,1241.8 1952.7,1247.9 1954.3,1255.7 1955.9,1243.9 1957.6,1232.4 1959.2,1224.4 1961.2,1226.2 1963.1,1226.9 1965.0,1229.7 1967.0,1230.2 1968.7,1242.6 1970.5,1253.8 1972.2,1265.9 1973.9,1277.2 1975.6,1264.8 1977.3,1247.5 1979.0,1230.8 1980.7,1217.5 1982.7,1229.2 1984.7,1237.8 1986.6,1247.4 1988.6,1255.7 1990.5,1239.9 1992.5,1221.4 1994.1,1227.2 1995.8,1236.4 1997.4,1240.0 1999.3,1228.1 2001.3,1217.3 2003.2,1208.7 2005.2,1219.4 2007.2,1224.1 2009.1,1231.9 2011.1,1240.0 2012.8,1236.4 2014.5,1231.4 2016.2,1224.7 2017.9,1218.5 2019.3,1221.1 2020.8,1222.4" stroke="#000000" stroke-width="5.4"/>
<polyline points="140.8,1052.1 142.5,1053.8 144.2,1054.5 145.9,1052.8 147.6,1055.0 149.6,1050.7 151.5,1048.0 153.5,1044.3 155.3,1044.0 157.0,1043.9 158.8,1043.2 160.5,1039.7 162.3,1039.4 164.0,1041.3 165.7,1040.5 167.4,1040.4 169.1,1042.3 171.1,1038.8 173.0,1038.1 175.0,1037.4 176.9,1038.8 178.9,1036.7 180.9,1038.6 182.8,1039.4 184.8,1036.5 186.7,1034.1 188.7,1033.5 190.6,1032.6 192.6,1034.1 194.6,1036.6 196.5,1037.4 198.3,1036.0 200.0,1032.6 201.8,1033.1 203.5,1032.3 205.3,1028.6 207.5,1031.3 209.6,1028.6 211.8,1030.0 213.9,1030.1 216.1,1032.5 218.1,1032.7 220.0,1030.4 222.0,1028.4 223.9,1028.2 225.9,1027.7 227.8,1026.1 229.8,1025.1 231.8,1023.2 233.7,1023.7 235.7,1026.9 237.6,1026.6 239.6,1027.7 241.6,1030.8 243.5,1036.5 245.5,1033.1 247.4,1033.7 249.4,1029.6 251.4,1030.8 253.3,1028.0 255.3,1028.4 257.2,1026.8 259.2,1028.6 261.1,1030.0 263.1,1027.2 265.1,1026.4 267.0,1027.7 269.0,1030.3 270.9,1032.4 272.9,1034.5 274.8,1031.5 276.8,1027.0 278.8,1023.7 280.7,1020.8 282.6,1023.2 284.6,1021.8 286.6,1023.4 288.5,1023.7 290.4,1023.4 292.4,1020.8 294.4,1016.9 296.3,1013.9 298.3,1012.0 300.2,1011.3 302.2,1013.2 304.2,1015.6 306.1,1015.9 308.1,1018.3 310.1,1017.6 312.0,1016.0 314.0,1017.9 315.9,1020.4 317.9,1023.7 319.8,1022.1 321.8,1021.7 323.8,1022.0 325.7,1020.8 327.7,1020.0 329.6,1021.1 331.6,1023.7 333.6,1023.2 335.5,1021.6 337.5,1024.5 339.4,1021.1 341.4,1021.8 343.3,1021.8 345.2,1019.2 347.2,1019.3 349.1,1021.0 351.1,1021.1 353.1,1020.4 355.0,1017.9 357.0,1019.0 358.9,1019.6 360.9,1018.3 362.8,1018.1 364.8,1017.9 366.8,1018.1 368.8,1015.1 370.7,1015.1 372.7,1014.0 374.4,1013.9 376.1,1016.0 377.8,1015.7 379.5,1018.8 381.1,1018.7 382.8,1016.1 384.4,1013.0 386.3,1014.1 388.3,1012.3 390.2,1014.4 392.2,1014.0 394.2,1015.0 396.1,1014.1 398.1,1017.9 400.1,1016.9 402.0,1012.8 404.0,1006.3 405.9,1003.2 407.9,1005.6 409.8,1008.0 411.8,1011.0 413.8,1010.5 415.7,1007.4 417.7,1006.7 419.6,1007.1 421.6,1010.3 423.5,1010.7 425.5,1012.0 427.5,1008.8 429.4,1005.2 431.4,1004.2 433.3,1003.0 435.3,1003.2 437.2,1004.2 438.9,1001.2 440.6,999.6 442.4,997.1 444.1,997.3 445.8,1001.1 447.5,999.9 449.2,1005.4 450.9,1006.1 452.9,1005.3 454.8,1006.7 456.8,1004.2 458.8,1005.5 460.7,1008.0 462.7,1011.0 464.8,1007.7 467.0,1005.4 469.1,1000.9 471.3,998.1 473.4,993.4 475.1,994.4 476.9,997.0 478.6,999.9 480.3,1001.2 482.2,998.9 484.2,998.6 486.2,997.9 488.1,998.3 490.3,995.7 492.5,997.0 494.7,995.4 496.9,993.4 498.6,988.6 500.4,986.0 502.1,982.7 503.8,978.7 505.6,977.4 507.3,971.8 509.1,969.5 510.8,966.9 512.6,963.1 514.5,948.4 516.5,935.7 518.2,924.3 520.0,914.6 521.7,904.4 523.7,894.5 525.6,883.6 527.6,871.1 529.2,864.7 530.9,856.7 532.5,851.5 534.1,853.1 535.8,853.0 537.4,855.4 539.0,866.0 540.7,876.4 542.3,888.7 544.0,895.8 545.7,908.2 547.4,913.6 549.1,923.9 551.1,935.7 553.0,951.0 555.0,963.1 556.6,970.0 558.3,975.6 559.9,980.7 561.7,981.3 563.4,984.2 565.2,985.8 566.9,983.5 568.7,986.6 570.7,989.4 572.6,992.7 574.6,998.3 576.5,999.1 578.5,997.7 580.5,999.5 582.4,1000.3 584.4,999.0 586.3,1000.4 588.3,1002.0 590.2,1001.2 592.2,1000.3 594.2,1000.8 596.1,999.6 598.1,1000.3 600.0,1001.1 602.0,1002.2 604.0,1000.8 605.9,1004.4 607.9,1002.2 609.8,1004.6 611.8,1003.5 613.7,1005.1 615.7,1004.7 617.6,1001.8 619.6,998.3 621.5,999.4 623.5,998.6 625.5,1001.6 627.4,1002.2 629.0,1004.3 630.7,1004.2 632.3,1006.1 633.9,1003.6 635.6,998.4 637.2,993.4 639.2,996.4 641.1,996.8 643.0,995.3 645.0,998.3 646.5,1001.5 648.0,1003.2 649.7,1000.4 651.4,1002.7 653.1,1000.1 654.8,998.3 656.8,998.6 658.7,998.1 660.7,998.6 662.6,995.2 664.6,996.3 666.6,995.1 668.5,993.0 670.5,990.5 672.5,990.8 674.4,989.9 676.3,988.4 678.3,986.6 680.3,985.3 682.2,985.1 684.2,981.7 686.1,984.5 688.1,984.2 690.0,986.6 692.0,989.3 694.0,992.4 695.9,988.0 697.9,983.3 699.8,976.8 701.8,978.8 703.7,984.2 705.7,988.5 707.7,986.3 709.6,987.2 711.6,985.6 713.5,984.1 715.5,983.5 717.4,982.6 719.1,980.0 720.8,981.0 722.6,976.5 724.3,975.8 726.0,975.5 727.7,976.1 729.4,978.8 731.1,978.7 733.3,980.3 735.5,980.5 737.7,979.6 739.9,980.7 741.7,979.2 743.4,978.7 745.2,978.4 746.9,975.6 748.7,975.8 750.7,977.7 752.6,980.6 754.6,981.7 756.5,980.9 758.5,980.7 760.5,982.6 762.4,981.7 764.4,986.5 766.3,989.0 768.3,991.4 770.1,993.3 771.8,991.8 773.6,990.6 775.3,992.8 777.1,992.4 779.1,991.0 781.0,992.9 783.0,995.1 785.0,994.4 786.7,992.4 788.4,993.2 790.1,988.3 791.8,988.5 793.8,990.3 795.7,994.4 797.7,993.7 799.6,993.8 801.5,996.4 803.5,994.4 805.5,997.9 807.4,999.6 809.4,1001.2 811.4,1000.9 813.3,1002.9 815.2,1002.4 817.2,1005.1 819.2,1004.9 821.1,1007.1 823.1,1007.1 824.8,1009.9 826.5,1007.8 828.3,1008.3 830.0,1011.0 831.7,1009.6 833.4,1010.0 835.1,1009.3 836.8,1006.1 838.8,1006.9 840.7,1005.0 842.7,1004.2 844.9,1005.4 847.1,1003.1 849.3,1001.7 851.5,1003.2 853.7,1005.5 855.9,1007.4 858.1,1009.5 860.3,1012.0 862.2,1013.0 864.2,1014.9 866.1,1015.8 868.1,1014.9 870.0,1014.3 872.0,1016.4 874.0,1016.7 875.9,1015.9 877.9,1017.9 879.8,1020.0 881.8,1023.8 883.8,1027.7 885.8,1024.7 887.7,1018.8 889.9,1017.9 892.1,1019.9 894.3,1018.9 896.5,1018.8 898.2,1017.4 899.9,1021.0 901.6,1020.2 903.3,1019.8 904.8,1019.5 906.3,1017.1 907.8,1015.8 909.8,1020.1 911.7,1025.6 913.7,1024.0 915.7,1024.4 917.6,1019.8 919.6,1019.7 921.5,1022.7 923.5,1021.6 925.5,1021.9 927.4,1024.6 929.4,1023.1 931.3,1021.9 933.2,1023.6 935.2,1022.6 937.2,1022.7 939.2,1023.5 941.1,1026.0 943.1,1026.5 945.0,1024.6 947.0,1022.6 949.0,1021.3 950.9,1021.6 952.9,1021.5 954.8,1024.4 956.8,1025.3 958.7,1024.6 960.7,1026.8 962.6,1023.1 964.5,1023.7 966.5,1025.6 968.5,1026.1 970.5,1027.7 972.4,1027.8 974.4,1026.5 976.3,1028.4 978.3,1033.4 980.2,1035.3 982.2,1034.7 984.2,1031.9 986.1,1030.9 988.1,1031.4 990.0,1029.2 992.0,1028.4 993.9,1026.5 995.9,1028.6 997.8,1027.9 999.8,1030.6 1001.8,1029.5 1003.8,1029.8 1005.7,1030.0 1007.6,1031.2 1009.6,1033.4 1011.5,1030.8 1013.5,1031.7 1015.5,1029.9 1017.4,1028.5 1019.4,1027.9 1021.3,1031.8 1023.2,1029.8 1025.2,1031.4 1027.2,1032.4 1029.2,1031.2 1031.1,1026.5 1033.1,1027.5 1035.0,1026.5 1037.0,1029.0 1039.0,1029.8 1040.9,1031.4 1042.9,1030.8 1044.8,1030.6 1046.8,1029.2 1048.7,1028.5 1050.7,1029.7 1052.7,1028.2 1054.6,1030.3 1056.6,1031.4 1058.5,1033.1 1060.5,1032.0 1062.4,1031.3 1064.4,1031.3 1066.3,1032.1 1068.3,1032.4 1070.2,1033.0 1072.2,1032.1 1074.1,1032.3 1076.1,1030.5 1078.1,1029.3 1080.0,1025.3 1082.0,1022.6 1084.0,1027.9 1085.9,1029.7 1087.9,1033.4 1089.9,1033.3 1091.8,1032.9 1093.8,1032.4 1095.7,1030.5 1097.7,1028.9 1099.6,1031.8 1101.6,1030.8 1103.5,1030.2 1105.5,1030.5 1107.5,1031.3 1109.4,1032.5 1111.4,1031.4 1113.4,1031.5 1115.3,1029.6 1117.2,1028.2 1119.2,1024.6 1121.2,1026.8 1123.1,1028.6 1125.0,1031.9 1127.0,1034.4 1129.0,1029.3 1130.9,1023.2 1132.9,1019.7 1134.8,1020.9 1136.8,1021.0 1138.7,1018.7 1140.7,1020.2 1142.6,1026.5 1144.6,1028.5 1146.5,1026.8 1148.5,1029.3 1150.5,1027.2 1152.4,1026.5 1154.4,1026.1 1156.3,1027.9 1158.3,1028.9 1160.3,1027.5 1162.2,1027.0 1164.2,1026.0 1166.1,1025.4 1168.1,1026.5 1170.1,1027.6 1172.0,1026.6 1174.0,1025.6 1176.0,1028.3 1177.9,1028.3 1179.8,1028.6 1181.8,1030.5 1183.8,1030.5 1185.7,1027.9 1187.6,1026.8 1189.6,1024.6 1191.6,1021.9 1193.5,1021.3 1195.5,1021.2 1197.5,1021.6 1199.5,1021.3 1201.4,1026.6 1203.3,1025.3 1205.3,1028.5 1207.2,1027.3 1209.2,1028.4 1211.1,1030.4 1213.1,1028.5 1215.1,1028.7 1217.0,1027.4 1219.0,1028.9 1220.9,1028.2 1222.9,1027.5 1224.9,1027.2 1226.8,1025.4 1228.8,1020.1 1230.7,1017.8 1232.7,1017.7 1234.7,1019.1 1236.6,1020.3 1238.5,1019.6 1240.5,1021.6 1242.5,1020.6 1244.4,1021.1 1246.3,1019.7 1248.3,1018.7 1250.3,1019.1 1252.2,1018.8 1254.2,1022.2 1256.2,1021.6 1258.2,1023.0 1260.1,1022.9 1262.0,1027.2 1264.0,1026.5 1266.0,1027.6 1267.9,1030.0 1269.8,1028.1 1271.8,1030.5 1273.8,1031.2 1275.7,1036.2 1277.7,1036.3 1279.7,1034.0 1281.6,1031.9 1283.5,1032.3 1285.5,1028.5 1287.5,1026.8 1289.4,1027.4 1291.3,1026.8 1293.3,1028.5 1294.8,1029.5 1296.3,1029.5 1297.8,1027.7 1299.8,1026.2 1301.8,1028.9 1303.7,1028.3 1305.7,1026.7 1307.7,1024.3 1309.6,1023.1 1311.6,1024.9 1313.5,1022.5 1315.5,1021.4 1317.4,1020.8 1319.1,1023.6 1320.8,1027.1 1322.5,1032.5 1324.2,1034.5 1325.9,1035.4 1327.7,1032.1 1329.4,1033.0 1331.1,1030.6 1333.0,1031.2 1335.0,1033.6 1337.0,1033.3 1338.9,1035.5 1340.9,1033.0 1342.8,1028.9 1344.8,1024.7 1346.8,1025.1 1348.7,1027.4 1350.7,1029.0 1352.6,1028.8 1354.6,1028.6 1356.5,1032.2 1358.5,1031.2 1360.5,1033.7 1362.4,1035.5 1364.4,1032.0 1366.3,1033.9 1368.3,1030.3 1370.2,1027.7 1372.2,1026.7 1374.2,1027.9 1376.1,1023.8 1378.0,1027.0 1380.0,1024.7 1382.0,1021.2 1383.9,1017.8 1385.9,1016.9 1387.9,1023.4 1389.8,1024.4 1391.8,1030.6 1393.8,1029.0 1395.7,1028.5 1397.6,1028.0 1399.6,1024.7 1401.6,1027.0 1403.5,1027.0 1405.5,1024.8 1407.4,1024.6 1409.4,1026.7 1411.4,1027.2 1413.3,1027.7 1415.3,1029.0 1417.2,1027.6 1419.2,1027.7 1421.2,1029.8 1423.1,1028.5 1425.0,1029.9 1427.0,1028.6 1429.0,1028.6 1430.9,1028.6 1432.8,1031.9 1434.8,1032.5 1436.8,1033.7 1438.7,1034.3 1440.7,1032.0 1442.6,1034.2 1444.6,1032.5 1446.5,1027.7 1448.5,1020.8 1450.5,1022.6 1452.4,1022.2 1454.3,1025.4 1456.3,1025.7 1458.3,1026.6 1460.2,1022.3 1462.2,1024.0 1464.2,1022.8 1465.9,1021.0 1467.6,1018.1 1469.3,1019.4 1471.0,1016.9 1472.7,1021.0 1474.5,1024.2 1476.2,1026.1 1477.9,1027.7 1479.9,1026.6 1481.8,1030.7 1483.8,1028.1 1485.7,1029.5 1487.6,1032.9 1489.6,1031.6 1491.5,1032.0 1493.5,1028.1 1495.5,1026.2 1497.4,1025.7 1499.4,1024.6 1501.3,1022.4 1503.3,1019.9 1505.3,1015.9 1507.0,1016.6 1508.7,1020.6 1510.4,1022.0 1512.1,1024.7 1513.9,1024.0 1515.6,1022.4 1517.4,1022.0 1519.1,1020.2 1520.9,1019.8 1522.9,1017.5 1524.8,1019.3 1526.8,1017.1 1528.7,1015.9 1530.7,1014.0 1532.6,1010.4 1534.6,1007.1 1536.6,1010.9 1538.5,1013.8 1540.5,1015.9 1542.5,1015.1 1544.4,1012.8 1546.3,1010.7 1548.3,1007.1 1550.2,1008.6 1552.2,1009.5 1554.1,1008.0 1556.1,1008.1 1558.1,1005.0 1560.0,1007.2 1562.0,1006.2 1564.0,1003.2 1566.0,1003.1 1567.9,1002.1 1569.8,1000.7 1571.8,998.3 1573.8,1000.4 1575.7,1004.1 1577.6,1004.0 1579.6,1006.1 1581.6,999.6 1583.5,992.7 1585.5,987.5 1587.5,988.1 1589.4,987.5 1591.3,992.0 1593.3,991.4 1595.3,991.9 1597.2,989.6 1599.2,987.3 1601.1,985.1 1603.1,985.6 1605.1,984.5 1607.0,981.1 1609.0,979.7 1611.0,981.8 1612.9,980.7 1614.9,981.7 1616.8,977.0 1618.8,973.3 1620.7,968.0 1622.7,968.1 1624.6,967.8 1626.6,965.0 1628.6,962.5 1630.5,958.2 1632.5,957.2 1634.4,953.2 1636.4,949.0 1638.3,946.4 1640.3,944.7 1642.2,943.9 1644.2,941.3 1646.1,939.6 1648.1,935.7 1650.1,935.1 1652.0,932.7 1654.0,932.7 1656.0,931.6 1657.9,928.1 1659.8,926.6 1661.8,923.9 1663.8,919.9 1665.7,912.5 1667.6,904.9 1669.6,900.5 1671.2,904.5 1672.9,903.7 1674.5,908.3 1676.2,908.9 1677.9,907.5 1679.6,905.3 1681.3,903.4 1682.9,897.2 1684.6,892.5 1686.2,886.8 1688.2,884.1 1690.1,877.4 1692.1,874.0 1693.7,879.4 1695.4,882.0 1697.0,885.8 1698.9,879.5 1700.9,876.0 1702.8,872.1 1704.8,870.9 1706.7,866.8 1708.7,864.2 1710.9,865.2 1713.1,869.4 1715.3,871.3 1717.5,873.1 1719.5,870.3 1721.4,863.9 1723.4,859.4 1725.6,859.6 1727.8,863.4 1730.0,863.3 1732.2,864.2 1734.2,865.2 1736.1,866.5 1738.1,867.2 1740.0,868.5 1742.0,871.1 1744.0,870.8 1745.9,873.1 1747.9,875.1 1749.8,877.4 1751.8,880.9 1753.8,882.9 1755.7,885.5 1757.6,887.8 1759.6,887.7 1761.6,891.2 1763.5,892.0 1765.5,894.6 1767.5,895.1 1769.4,894.7 1771.3,896.5 1773.3,897.5 1775.2,907.7 1777.2,914.1 1779.2,915.1 1781.1,915.2 1783.1,915.8 1785.0,915.2 1787.0,917.1 1789.0,919.4 1790.9,918.4 1792.9,920.0 1794.8,927.7 1796.8,938.8 1798.7,945.5 1800.7,946.7 1802.6,952.1 1804.6,953.3 1806.5,953.9 1808.5,956.3 1810.5,955.8 1812.4,959.2 1814.4,957.9 1816.3,959.1 1818.3,961.1 1819.9,958.9 1821.6,956.9 1823.2,955.2 1824.8,961.1 1826.5,963.9 1828.1,967.0 1830.1,968.9 1832.0,975.2 1834.0,977.7 1835.9,976.8 1837.9,978.0 1839.8,979.4 1841.8,979.1 1843.7,981.7 1845.7,983.3 1847.6,982.6 1849.6,981.8 1851.6,984.3 1853.5,984.6 1855.5,985.6 1857.5,984.4 1859.4,987.1 1861.3,988.1 1863.3,986.5 1865.2,987.5 1867.2,989.5 1869.2,989.1 1871.1,991.9 1873.0,992.1 1875.0,994.4 1877.0,995.7 1878.9,994.5 1880.9,992.9 1882.9,990.8 1884.8,990.2 1886.8,990.5 1888.8,998.9 1890.7,1004.2 1892.7,1006.1 1894.6,1004.5 1896.5,1006.8 1898.5,1006.1 1900.5,1004.9 1902.4,1006.4 1904.4,1006.7 1906.4,1006.7 1908.3,1008.7 1910.3,1008.1 1912.3,1007.2 1914.2,1004.9 1916.2,1005.2 1918.1,1002.1 1920.1,1002.2 1922.0,1003.4 1924.0,1006.1 1926.0,1003.2 1927.9,1002.8 1929.8,1000.3 1931.8,999.3 1933.8,999.1 1935.7,1001.0 1937.7,1004.2 1939.6,1005.4 1941.6,1005.0 1943.5,1008.1 1945.5,1009.6 1947.5,1009.8 1949.4,1013.3 1951.4,1013.0 1953.4,1012.4 1955.3,1011.3 1957.2,1013.9 1959.2,1011.1 1961.1,1012.0 1963.1,1011.0 1965.1,1012.2 1967.0,1010.1 1969.0,1011.7 1970.9,1011.1 1972.9,1012.0 1974.9,1014.2 1976.8,1013.7 1978.8,1015.9 1980.7,1012.8 1982.7,1011.8 1984.6,1011.0 1986.6,1012.3 1988.5,1011.9 1990.5,1013.7 1992.4,1015.9 1994.4,1016.9 1996.4,1017.8 1998.3,1015.8 2000.3,1014.8 2002.3,1013.0 2004.2,1016.7 2006.2,1015.8 2008.1,1019.8 2010.1,1016.6 2012.0,1014.7 2014.0,1013.0 2016.0,1014.7 2017.9,1015.9 2019.9,1015.9" stroke="#c9b47c" stroke-width="5.0"/>
<polyline points="141.7,892.9 143.7,891.9 145.6,888.2 147.6,888.0 149.6,887.5 151.5,883.7 153.5,883.1 155.5,882.6 157.4,880.2 159.4,877.8 161.3,876.5 163.3,876.2 165.0,879.1 166.7,877.7 168.4,877.7 170.1,880.2 171.7,878.2 173.4,876.1 175.0,873.3 176.7,873.2 178.4,875.4 180.2,877.2 181.9,878.2 183.6,877.6 185.3,873.6 187.0,871.2 188.7,870.4 190.6,872.5 192.6,874.3 194.6,875.3 196.5,875.3 198.5,872.0 200.4,873.2 202.4,872.0 204.3,868.1 206.3,866.5 208.3,865.8 210.2,867.5 212.2,870.2 214.2,869.9 216.1,871.6 218.1,870.4 220.1,870.7 222.0,866.5 223.9,865.5 225.9,865.5 227.8,866.5 229.8,865.0 231.8,862.6 233.7,861.6 235.3,861.6 237.0,864.4 238.6,865.5 240.2,867.8 241.9,870.2 243.5,874.3 245.5,871.1 247.4,870.2 249.4,867.4 251.4,868.9 253.3,868.0 255.3,868.2 257.2,864.8 259.2,866.5 261.1,865.8 263.1,864.3 265.1,867.0 267.0,865.5 269.0,869.4 270.9,871.6 272.9,872.3 274.8,868.1 276.8,864.5 278.8,863.9 280.7,859.6 282.6,859.6 284.6,861.6 286.6,861.6 288.5,861.6 290.4,861.4 292.4,857.7 294.4,853.3 296.3,853.7 298.3,848.8 300.2,851.8 302.2,850.2 304.2,852.9 306.1,852.8 308.1,852.8 310.1,851.8 312.0,852.4 314.0,854.7 315.9,859.6 317.9,860.6 319.8,859.7 321.8,858.2 323.7,856.7 325.7,857.3 327.6,858.3 329.6,859.1 331.6,861.6 333.6,862.1 335.5,860.5 337.5,861.5 339.4,860.5 341.4,860.3 343.3,858.6 345.2,857.7 347.2,857.8 349.1,857.6 351.1,856.8 353.1,855.1 355.0,854.7 357.0,853.4 358.9,856.5 360.9,853.8 362.8,854.1 364.8,855.7 366.8,856.1 368.8,852.9 370.7,853.8 372.7,850.8 374.4,853.8 376.1,853.1 377.8,855.4 379.5,855.7 381.1,853.6 382.8,851.5 384.4,849.8 386.3,849.8 388.3,848.8 390.2,851.2 392.2,850.8 394.2,851.7 396.1,853.0 398.1,853.6 400.1,853.7 402.0,850.7 404.0,845.0 405.9,841.0 407.9,844.6 409.8,845.6 411.8,847.9 413.8,847.3 415.7,845.0 417.7,847.0 419.6,844.9 421.6,844.7 423.5,845.8 425.5,847.9 427.5,845.9 429.4,842.7 431.4,841.0 433.3,839.7 435.3,841.9 437.2,841.0 438.9,840.3 440.6,837.8 442.4,837.1 444.1,834.2 445.8,836.2 447.5,839.3 449.2,843.5 450.9,844.0 452.9,844.9 454.8,844.1 456.8,842.0 458.8,843.5 460.7,844.1 462.7,847.9 464.8,844.1 467.0,840.1 469.1,838.9 471.3,835.5 473.4,830.3 475.1,833.6 476.9,834.4 478.6,834.2 480.3,838.1 482.2,835.5 484.2,837.1 486.2,834.9 488.1,834.2 490.1,832.2 492.0,830.2 494.0,828.0 495.9,827.0 497.9,826.3 499.8,822.5 501.8,819.9 503.8,816.0 505.7,812.6 507.4,809.0 509.1,805.6 510.9,800.1 512.6,797.0 514.5,784.4 516.5,769.6 518.2,760.1 520.0,750.2 521.7,742.2 523.7,728.9 525.6,719.0 527.6,705.0 529.2,696.2 530.9,690.7 532.5,682.5 534.1,681.6 535.8,684.9 537.4,683.5 539.3,701.6 541.3,718.7 543.2,727.3 545.2,738.9 547.1,746.0 549.1,757.8 551.1,770.4 553.0,784.2 555.0,797.0 556.6,805.1 558.3,809.7 559.9,816.6 561.7,816.3 563.4,820.7 565.2,821.4 566.9,823.2 568.7,822.4 570.7,828.0 572.6,830.9 574.6,834.2 576.5,835.3 578.5,835.4 580.5,833.7 582.4,836.1 584.4,834.7 586.3,836.8 588.3,834.2 590.2,834.3 592.2,835.5 594.1,836.8 596.1,838.1 598.0,837.6 600.0,837.9 602.0,833.9 603.9,834.2 605.9,834.3 607.8,836.4 609.8,838.0 611.7,842.0 613.7,842.0 615.7,841.1 617.6,836.1 619.6,834.2 621.5,836.9 623.5,835.1 625.5,839.4 627.4,840.0 629.0,840.7 630.7,840.6 632.3,843.0 633.9,839.8 635.6,836.0 637.2,830.3 639.2,829.0 641.1,831.1 643.1,832.2 644.7,836.0 646.4,836.7 648.0,839.1 649.6,835.6 651.3,832.7 652.9,832.2 654.9,832.0 656.8,833.4 658.8,829.9 660.7,831.2 662.7,829.9 664.6,830.1 666.5,828.4 668.5,828.3 670.5,827.1 672.4,825.0 674.4,823.4 676.2,822.8 677.9,822.3 679.7,818.7 681.4,817.9 683.2,818.5 684.9,819.4 686.6,822.6 688.3,822.8 690.0,824.4 692.0,823.0 693.9,820.0 695.9,820.5 697.5,819.7 699.2,814.2 700.8,812.6 702.4,816.4 704.1,818.3 705.7,823.4 707.7,821.7 709.6,822.2 711.6,819.5 713.5,820.8 715.5,819.7 717.4,817.5 719.1,818.0 720.8,814.9 722.6,811.6 724.3,811.7 726.0,812.9 727.7,812.8 729.4,815.0 731.1,813.6 733.3,815.6 735.5,815.6 737.7,815.5 739.9,815.6 741.7,814.2 743.4,815.7 745.2,813.8 746.9,810.6 748.7,811.7 750.7,815.1 752.6,815.6 754.6,818.5 756.5,816.5 758.5,816.1 760.5,816.2 762.4,816.6 764.4,820.9 766.3,824.5 768.3,826.3 770.1,826.9 771.8,824.7 773.6,826.2 775.3,825.3 777.1,826.3 779.1,825.4 781.0,825.7 783.0,829.7 785.0,828.3 786.7,827.5 788.4,827.9 790.1,824.3 791.8,824.4 793.8,828.5 795.7,830.3 797.7,828.4 799.6,828.4 801.5,828.5 803.5,830.3 805.5,833.5 807.4,836.1 809.4,838.1 811.4,840.7 813.3,840.2 815.2,841.7 817.2,841.0 819.2,843.0 821.1,843.6 823.1,843.0 825.1,844.3 827.0,847.1 829.0,846.9 831.0,846.4 832.9,842.1 834.8,841.6 836.8,840.0 838.8,841.5 840.7,840.3 842.6,838.2 844.6,840.0 846.6,839.9 848.5,838.1 850.5,838.4 852.5,839.1 854.5,840.8 856.4,844.3 858.3,844.5 860.3,846.9 862.2,845.9 864.2,846.9 866.1,848.6 868.1,850.8 870.0,850.9 872.0,852.0 874.0,854.0 875.9,852.8 877.9,854.3 879.8,860.7 881.8,860.8 883.8,865.5 885.8,859.3 887.7,854.7 889.9,853.6 892.1,853.4 894.3,853.7 896.5,855.7 898.2,858.1 899.9,856.4 901.6,855.6 903.3,857.7 904.8,857.1 906.3,854.2 907.8,852.0 909.8,855.9 911.7,861.8 913.7,858.5 915.7,856.9 917.6,858.7 919.6,855.9 921.5,857.1 923.5,857.1 925.5,861.1 927.4,861.8 929.4,860.1 931.3,860.6 933.2,861.0 935.2,859.8 937.2,861.6 939.2,860.3 941.1,861.7 943.1,863.7 945.0,861.2 947.0,862.6 949.0,860.6 950.9,858.8 952.9,860.3 954.8,859.4 956.8,860.1 958.7,861.8 960.7,863.7 962.6,863.3 964.5,863.9 966.5,862.7 968.5,862.9 970.5,863.4 972.4,865.1 974.4,863.7 976.3,868.2 978.3,868.4 980.2,872.5 982.2,873.0 984.2,871.7 986.1,871.3 988.1,868.6 990.0,868.5 992.0,866.9 993.9,863.7 995.9,865.9 997.8,866.9 999.8,866.6 1001.8,866.7 1003.8,866.9 1005.7,867.5 1007.6,870.5 1009.6,870.6 1011.5,871.1 1013.5,866.5 1015.5,865.8 1017.4,865.7 1019.4,864.6 1021.3,866.6 1023.2,866.6 1025.2,868.6 1027.2,867.7 1029.2,869.0 1031.1,865.8 1033.1,865.7 1035.0,864.8 1037.0,865.4 1039.0,867.4 1040.9,868.6 1042.9,868.9 1044.8,868.8 1046.8,865.2 1048.7,865.7 1050.7,865.0 1052.7,868.5 1054.6,866.3 1056.6,868.6 1058.5,868.9 1060.5,869.2 1062.4,869.4 1064.4,870.6 1066.3,870.3 1068.3,869.6 1070.2,869.6 1072.2,867.3 1074.1,867.0 1076.1,867.6 1078.1,863.7 1080.0,862.1 1082.0,859.8 1084.0,861.2 1085.9,867.2 1087.9,869.6 1089.9,868.8 1091.8,868.8 1093.8,866.9 1095.7,867.6 1097.7,866.8 1099.6,868.3 1101.6,867.5 1103.5,868.8 1105.5,867.6 1107.5,868.7 1109.4,868.7 1111.4,868.6 1113.4,868.3 1115.3,864.7 1117.2,861.8 1119.2,861.8 1121.2,864.6 1123.1,866.3 1125.0,867.7 1127.0,870.6 1129.0,866.0 1130.9,859.9 1132.9,856.9 1134.8,856.7 1136.8,857.3 1138.7,855.9 1140.7,857.2 1142.6,861.2 1144.6,865.7 1146.5,865.2 1148.5,866.0 1150.5,863.8 1152.4,863.7 1154.4,862.1 1156.3,864.1 1158.3,864.5 1160.3,864.7 1162.2,863.6 1164.2,865.9 1166.1,865.7 1168.1,863.7 1170.1,862.4 1172.0,861.4 1174.0,862.7 1176.0,864.5 1177.9,864.0 1179.8,867.0 1181.8,867.6 1183.8,865.6 1185.7,865.8 1187.6,864.2 1189.6,861.8 1191.6,862.8 1193.5,861.1 1195.5,859.3 1197.5,858.8 1199.5,860.3 1201.4,861.9 1203.3,864.4 1205.3,865.7 1207.2,865.2 1209.2,866.2 1211.1,864.3 1213.1,865.7 1215.1,867.4 1217.0,866.5 1219.0,866.5 1220.9,864.5 1222.9,864.7 1224.9,863.7 1226.8,861.9 1228.8,857.0 1230.7,856.2 1232.7,854.9 1234.7,855.1 1236.6,857.5 1238.5,858.8 1240.5,858.8 1242.5,858.9 1244.4,858.5 1246.3,858.1 1248.3,855.9 1250.3,858.6 1252.2,858.9 1254.2,856.3 1256.2,858.8 1258.2,861.5 1260.1,860.4 1262.0,864.3 1264.0,863.7 1266.0,864.6 1267.9,863.8 1269.8,868.6 1271.8,867.6 1273.8,868.8 1275.7,872.9 1277.7,873.5 1279.7,871.0 1281.6,869.8 1283.5,867.0 1285.5,865.7 1287.5,863.7 1289.4,867.6 1291.3,865.3 1293.3,865.7 1294.8,865.8 1296.3,864.4 1297.8,865.5 1299.8,865.2 1301.8,866.4 1303.7,862.3 1305.7,863.5 1307.7,864.2 1309.6,862.5 1311.6,861.2 1313.5,858.0 1315.5,858.9 1317.4,857.7 1319.1,862.7 1320.8,865.2 1322.5,867.4 1324.2,871.4 1325.9,870.1 1327.7,868.6 1329.4,866.7 1331.1,867.4 1333.0,867.0 1335.0,871.6 1337.0,873.5 1338.9,873.3 1340.9,868.6 1342.8,867.4 1344.8,861.6 1346.8,861.8 1348.7,862.3 1350.7,865.8 1352.6,867.1 1354.6,866.5 1356.5,868.7 1358.5,871.7 1360.5,869.8 1362.4,873.3 1364.4,870.8 1366.3,868.7 1368.3,865.9 1370.2,866.5 1372.2,863.5 1374.2,864.7 1376.1,862.5 1378.0,862.3 1380.0,861.6 1382.0,860.0 1383.9,855.6 1385.9,854.7 1387.9,859.6 1389.8,864.9 1391.8,868.4 1393.8,866.3 1395.7,865.5 1397.6,864.4 1399.6,861.6 1401.6,861.7 1403.5,860.8 1405.5,864.4 1407.4,862.7 1409.4,864.5 1411.4,865.1 1413.3,864.9 1415.3,866.2 1417.2,863.8 1419.2,865.5 1421.2,865.3 1423.1,864.9 1425.0,865.4 1427.0,866.5 1429.0,866.6 1430.9,867.2 1432.8,871.2 1434.8,870.4 1436.8,872.2 1438.7,870.6 1440.7,871.1 1442.6,869.4 1444.6,870.4 1446.5,862.1 1448.5,857.7 1450.5,858.2 1452.4,859.9 1454.3,862.1 1456.3,863.5 1458.3,861.9 1460.2,861.2 1462.2,859.1 1464.2,859.6 1465.9,859.7 1467.6,857.6 1469.3,854.5 1471.0,854.7 1472.7,855.5 1474.5,859.8 1476.2,864.3 1477.9,865.5 1479.9,866.7 1481.8,865.1 1483.8,868.7 1485.7,869.6 1487.6,867.0 1489.6,869.4 1491.5,866.7 1493.5,867.0 1495.5,864.3 1497.4,863.5 1499.4,861.4 1501.3,859.0 1503.3,856.7 1505.3,853.7 1507.0,854.7 1508.7,860.0 1510.4,861.0 1512.1,862.5 1513.9,859.7 1515.6,862.2 1517.4,861.0 1519.1,860.1 1520.9,857.7 1522.9,857.4 1524.8,855.6 1526.8,856.4 1528.7,853.7 1530.7,850.7 1532.6,849.2 1534.6,844.0 1536.6,845.7 1538.5,848.9 1540.5,853.7 1542.5,850.1 1544.4,850.8 1546.3,845.6 1548.3,844.9 1550.2,846.6 1552.2,844.7 1554.1,846.9 1556.1,845.9 1558.1,845.2 1560.0,842.6 1562.0,840.3 1564.0,840.0 1566.0,839.3 1567.9,839.0 1569.8,837.1 1571.8,835.1 1573.8,837.5 1575.7,839.0 1577.6,840.3 1579.6,843.0 1581.6,835.3 1583.5,830.6 1585.5,824.4 1587.5,824.0 1589.4,826.4 1591.3,825.6 1593.3,828.3 1595.3,825.8 1597.2,824.2 1599.2,823.3 1601.1,821.7 1603.1,822.4 1605.1,820.2 1607.0,819.6 1609.0,816.6 1611.0,817.3 1612.9,816.3 1614.9,818.5 1616.8,814.2 1618.8,809.4 1620.7,803.8 1622.7,804.7 1624.6,800.4 1626.6,800.9 1628.6,798.2 1630.5,794.7 1632.5,793.1 1634.4,788.8 1636.4,786.2 1638.3,781.3 1640.3,778.6 1642.2,775.3 1644.2,773.7 1646.1,771.4 1648.1,769.6 1650.1,770.4 1652.0,770.1 1654.0,767.6 1656.0,766.9 1657.9,762.5 1659.8,759.6 1661.8,757.8 1663.8,750.4 1665.7,744.2 1667.6,741.0 1669.6,734.4 1671.2,736.5 1672.9,736.8 1674.5,738.3 1676.1,736.0 1677.8,734.4 1679.4,733.4 1681.1,728.7 1682.8,723.1 1684.5,719.8 1686.2,714.8 1688.2,709.8 1690.1,706.6 1692.1,702.1 1693.7,706.8 1695.4,711.0 1697.0,715.8 1698.9,712.1 1700.9,706.3 1702.8,703.1 1704.8,701.4 1706.7,698.6 1708.7,693.3 1710.9,693.6 1713.1,695.9 1715.3,701.5 1717.5,702.1 1719.5,696.9 1721.4,694.3 1723.4,688.4 1725.6,689.9 1727.8,692.7 1730.0,692.7 1732.2,693.3 1734.2,692.3 1736.1,696.7 1738.1,696.2 1740.0,698.9 1742.0,700.1 1744.0,701.8 1745.9,703.1 1747.9,706.5 1749.8,708.5 1751.8,710.9 1753.8,714.3 1755.7,713.4 1757.6,715.9 1759.6,716.8 1761.6,720.2 1763.5,721.9 1765.5,724.6 1767.5,723.4 1769.4,724.8 1771.3,724.9 1773.3,726.5 1775.2,736.9 1777.2,744.1 1779.2,745.4 1781.1,747.6 1783.1,747.2 1785.0,747.2 1787.0,749.0 1789.0,753.4 1790.9,755.4 1792.9,757.8 1794.8,762.6 1796.8,770.1 1798.7,775.5 1800.7,777.2 1802.6,782.6 1804.6,785.2 1806.5,786.5 1808.5,789.3 1810.5,792.2 1812.4,792.1 1814.4,792.1 1816.3,793.7 1818.3,795.0 1819.9,794.3 1821.6,790.5 1823.2,788.2 1824.8,792.9 1826.5,794.9 1828.1,797.0 1830.1,801.7 1832.0,807.9 1834.0,811.7 1835.9,813.8 1837.9,811.9 1839.8,813.5 1841.8,816.1 1843.7,816.6 1845.7,817.5 1847.6,816.9 1849.6,817.1 1851.6,821.2 1853.5,817.9 1855.5,820.5 1857.5,821.7 1859.4,822.8 1861.3,824.2 1863.3,823.0 1865.2,823.2 1867.2,824.4 1869.2,826.6 1871.1,825.7 1873.0,829.2 1875.0,830.3 1877.0,829.1 1878.9,828.5 1880.9,828.4 1882.9,828.8 1884.8,828.9 1886.8,826.3 1888.8,834.0 1890.7,842.0 1892.7,841.7 1894.6,842.1 1896.5,842.6 1898.5,843.0 1900.5,842.5 1902.4,844.6 1904.4,845.3 1906.4,844.8 1908.3,844.1 1910.3,844.9 1912.3,843.4 1914.2,844.4 1916.2,843.5 1918.1,842.5 1920.1,840.0 1922.0,843.2 1924.0,844.0 1926.0,841.6 1927.9,838.4 1929.8,839.3 1931.8,836.1 1933.8,839.1 1935.7,841.0 1937.7,842.0 1939.6,842.9 1941.6,844.0 1943.5,842.0 1945.5,843.1 1947.5,848.4 1949.4,848.9 1951.4,850.8 1953.4,851.4 1955.3,847.9 1957.2,849.7 1959.2,848.5 1961.1,850.3 1963.1,847.9 1965.1,845.9 1967.0,846.7 1969.0,846.6 1970.9,849.3 1972.9,847.9 1974.9,848.2 1976.8,850.6 1978.8,852.8 1980.7,849.2 1982.7,848.4 1984.6,846.9 1986.6,848.4 1988.5,849.1 1990.5,852.1 1992.4,850.1 1994.4,852.8 1996.4,852.5 1998.3,852.6 2000.3,848.7 2002.3,849.8 2004.2,851.2 2006.2,857.0 2008.1,857.7 2010.1,854.8 2012.0,851.8 2014.0,850.8 2016.0,853.7 2017.9,851.8 2019.9,853.7" stroke="#4fa652" stroke-width="5.0"/>
<polyline points="139.8,727.7 141.4,729.4 143.1,732.4 144.7,731.6 146.3,717.1 148.0,696.5 149.6,683.6 151.2,685.3 152.9,683.7 154.5,684.6 156.4,691.5 158.4,702.2 160.1,701.3 161.8,707.6 163.5,708.4 165.2,708.1 167.2,715.4 169.1,718.4 171.1,726.7 172.7,716.4 174.4,709.7 176.0,702.2 177.6,702.8 179.3,700.0 180.9,701.3 182.4,696.7 183.8,686.6 185.8,698.9 187.7,712.0 189.3,699.9 191.0,680.5 192.6,666.0 194.3,677.4 196.1,685.7 197.8,691.5 199.5,702.2 201.3,691.0 203.0,678.8 204.8,666.2 206.5,656.6 208.3,643.5 209.9,661.2 211.6,682.2 213.2,698.3 215.1,681.1 217.1,662.1 219.1,679.7 221.0,696.4 222.6,700.4 224.3,699.8 225.9,700.3 227.4,697.4 228.8,698.3 230.8,669.4 232.7,638.6 234.7,659.3 236.7,682.7 238.3,681.3 239.9,679.3 241.5,682.7 243.5,669.7 245.5,653.3 247.2,657.9 248.9,670.1 250.6,671.5 252.3,681.7 254.0,681.1 255.8,676.8 257.5,672.1 259.2,668.0 261.1,677.0 263.1,685.2 265.1,695.4 267.0,704.2 268.9,691.1 270.9,680.9 272.9,666.0 274.8,653.3 276.5,664.0 278.2,673.8 280.0,688.4 281.7,699.3 283.6,692.0 285.6,681.3 287.5,674.8 289.2,669.9 290.9,667.2 292.7,664.5 294.4,663.1 296.2,661.3 297.9,660.7 299.7,657.4 301.4,657.2 303.2,651.4 305.0,660.8 306.7,670.9 308.5,684.0 310.2,693.9 312.0,702.2 313.9,681.8 315.9,656.2 317.8,668.5 319.8,674.3 321.8,683.1 323.7,692.4 325.5,685.4 327.2,676.5 329.0,669.2 330.7,664.9 332.5,654.3 334.5,660.2 336.4,666.4 338.4,679.4 340.4,684.6 342.3,676.8 344.3,675.2 346.2,671.5 348.2,665.0 350.2,667.1 352.1,674.9 354.1,678.7 356.1,669.7 358.0,661.7 359.9,654.2 361.9,650.4 363.9,652.8 365.8,659.2 367.8,668.0 369.8,667.2 371.7,668.0 373.3,655.8 375.0,642.3 376.6,633.7 378.2,650.2 379.9,670.1 381.5,684.6 383.4,670.6 385.4,649.9 387.4,636.0 389.3,621.0 390.9,634.5 392.6,640.7 394.2,655.3 396.1,663.5 398.1,674.9 400.1,677.9 402.0,688.5 403.9,671.1 405.9,658.2 407.9,646.5 409.8,632.8 411.8,638.0 413.8,649.2 415.7,650.9 417.7,660.2 419.6,649.0 421.6,637.5 423.5,624.0 425.5,624.3 427.4,622.2 429.4,625.9 431.0,639.9 432.7,656.6 434.3,676.8 436.3,668.3 438.2,664.7 440.2,661.1 442.1,657.7 444.1,661.8 446.0,657.2 448.0,646.4 449.9,630.6 451.9,619.4 453.9,605.4 455.5,619.6 457.2,639.2 458.8,655.3 460.4,652.2 462.1,643.8 463.7,641.6 465.4,645.2 467.1,642.7 468.8,643.1 470.5,645.5 472.1,634.0 473.8,620.3 475.4,610.3 477.0,610.8 478.7,612.7 480.3,610.3 482.0,612.3 483.7,611.8 485.4,619.9 487.1,620.0 488.7,609.3 490.4,591.9 492.0,580.9 494.0,587.8 495.9,595.2 497.9,605.4 499.9,610.3 501.8,598.2 503.8,589.4 505.8,574.8 507.7,567.2 509.1,533.6 510.6,500.7 512.5,523.7 514.5,540.8 516.6,527.9 518.7,508.5 520.8,496.8 522.8,487.3 524.7,473.3 526.7,479.6 528.6,488.9 530.2,484.1 531.9,485.3 533.5,479.1 535.5,496.1 537.4,512.4 538.8,520.9 540.3,533.9 542.2,533.6 544.2,529.0 545.7,548.3 547.2,569.2 549.2,572.4 551.1,577.0 552.5,575.1 554.0,573.1 556.0,610.3 558.0,613.5 559.9,614.8 561.9,614.2 563.3,622.3 564.8,627.9 566.8,624.2 568.7,614.2 570.7,614.4 572.6,621.0 574.5,633.2 576.5,643.5 578.5,639.6 580.5,632.8 582.4,623.4 584.4,618.0 586.3,614.2 588.2,612.8 590.2,616.1 592.2,625.1 594.1,635.5 596.1,640.6 597.7,635.1 599.4,638.5 601.0,632.8 602.6,644.8 604.3,653.3 605.9,661.1 607.3,645.5 608.8,627.9 610.8,637.6 612.7,653.3 614.7,655.1 616.7,651.4 618.7,644.5 620.6,633.7 622.5,640.7 624.5,647.4 626.0,647.4 627.4,651.4 629.3,640.7 631.3,633.7 632.9,637.9 634.6,646.8 636.2,649.4 638.2,662.6 640.1,674.1 642.1,682.7 643.7,665.7 645.4,655.7 647.0,637.7 649.0,633.3 650.9,628.9 652.9,627.9 654.6,628.5 656.3,627.6 658.0,630.2 659.7,627.9 661.3,625.5 663.0,621.7 664.6,623.0 666.2,633.7 667.9,643.1 669.5,649.4 671.5,640.1 673.4,635.7 675.3,640.0 677.3,642.5 678.9,637.4 680.6,632.0 682.2,623.0 684.2,621.7 686.1,622.0 688.1,625.9 690.1,629.3 692.0,631.1 694.0,633.4 695.9,636.1 697.9,638.6 699.9,635.8 701.8,631.7 703.8,631.2 705.7,633.1 707.6,631.3 709.6,627.9 711.2,616.9 712.9,608.5 714.5,600.5 716.5,619.9 718.4,635.7 720.0,639.6 721.7,633.6 723.3,637.7 724.8,616.0 726.2,598.5 727.8,610.9 729.5,619.1 731.1,627.9 733.1,625.4 735.0,618.9 737.0,612.2 738.6,623.9 740.3,643.4 741.9,654.3 743.5,649.2 745.2,636.8 746.8,631.8 748.2,641.1 749.7,653.3 751.7,636.7 753.6,626.9 755.2,616.5 756.9,610.2 758.5,602.4 760.5,622.7 762.4,641.6 764.4,636.0 766.4,629.8 768.3,644.6 770.3,665.0 772.0,650.6 773.7,632.9 775.4,619.2 777.1,602.4 778.7,633.1 780.4,660.5 782.0,684.6 784.0,653.2 785.9,625.9 787.9,635.9 789.8,641.6 791.8,647.4 793.8,643.9 795.7,645.2 797.7,647.4 799.3,640.2 801.0,637.0 802.6,633.7 804.2,639.8 805.9,636.4 807.5,642.5 809.4,652.4 811.4,661.4 813.3,674.8 815.3,671.5 817.2,665.7 819.2,661.1 821.2,674.4 823.1,684.6 824.7,673.7 826.4,662.5 828.0,651.4 830.0,635.8 831.9,627.5 833.9,612.2 835.5,622.2 837.2,636.5 838.8,649.4 840.8,648.1 842.7,643.5 844.7,641.8 846.6,647.1 848.6,647.4 850.5,653.1 852.5,660.5 854.5,663.7 856.4,670.9 858.4,650.0 860.3,633.7 862.3,612.2 863.9,638.7 865.5,661.2 867.1,682.7 869.1,665.8 871.1,655.3 873.0,653.6 875.0,656.8 876.9,659.2 878.7,659.3 880.4,663.6 882.2,664.2 883.9,671.3 885.7,672.9 887.3,683.3 889.0,701.5 890.6,712.0 892.1,689.3 893.6,670.9 895.2,669.4 896.9,665.2 898.5,661.1 900.0,674.6 901.4,682.7 903.5,682.9 905.6,685.0 907.7,688.9 909.8,693.1 911.4,689.8 913.1,682.8 914.7,675.5 916.7,670.4 918.6,666.7 920.2,668.9 921.9,676.7 923.5,679.4 925.5,676.8 927.4,673.0 929.4,667.6 931.3,653.9 933.2,667.3 935.2,683.3 936.8,673.7 938.5,668.6 940.1,657.8 941.7,663.1 943.4,661.3 945.0,663.7 947.0,663.1 948.9,663.2 950.9,661.8 952.5,667.6 954.2,674.1 955.8,681.3 957.2,700.4 958.7,714.6 960.7,698.2 962.6,685.2 964.5,676.3 966.5,668.6 968.5,670.7 970.5,677.4 972.1,686.8 973.7,699.7 975.3,705.8 976.9,705.8 978.6,702.5 980.2,704.8 982.2,690.9 984.1,671.9 986.1,657.8 988.0,676.8 990.0,695.0 992.0,692.6 993.9,685.6 995.9,679.4 997.6,668.2 999.3,661.4 1001.0,650.7 1002.7,644.1 1004.2,677.4 1005.7,714.6 1007.3,691.7 1009.0,672.5 1010.6,652.0 1012.2,662.9 1013.9,681.7 1015.5,695.0 1017.4,673.5 1019.0,677.6 1020.7,678.8 1022.3,677.4 1023.8,685.5 1025.2,691.1 1027.2,689.7 1029.2,685.2 1030.8,674.0 1032.5,661.5 1034.1,651.0 1036.0,677.4 1038.0,700.9 1039.7,703.9 1041.4,701.2 1043.1,705.0 1044.8,704.8 1046.4,688.2 1048.1,679.1 1049.7,663.7 1051.4,670.0 1053.2,675.9 1054.9,677.9 1056.6,683.3 1058.2,688.3 1059.8,689.7 1061.4,693.1 1063.0,683.9 1064.7,681.1 1066.3,671.5 1068.3,674.8 1070.2,675.5 1072.2,677.4 1073.8,688.8 1075.5,703.6 1077.1,715.6 1079.0,700.1 1081.0,686.2 1083.0,672.4 1084.9,655.9 1086.5,665.3 1088.2,681.8 1089.8,693.1 1091.4,698.8 1093.1,703.5 1094.7,704.8 1096.3,697.1 1098.0,696.9 1099.6,689.2 1101.6,701.0 1103.5,708.5 1105.5,717.5 1107.5,710.0 1109.4,711.6 1111.4,704.8 1113.3,687.9 1115.3,676.8 1117.2,659.8 1119.2,667.5 1121.1,680.8 1123.1,693.1 1125.1,683.9 1127.0,665.6 1129.0,655.9 1131.0,666.2 1132.9,668.3 1134.8,676.8 1136.8,683.3 1138.8,684.3 1140.7,689.2 1142.7,665.5 1144.6,644.1 1146.2,659.3 1147.9,674.9 1149.5,687.2 1151.1,686.0 1152.8,679.5 1154.4,677.4 1156.4,698.9 1158.3,690.1 1160.3,683.3 1162.2,686.9 1164.2,683.0 1166.1,685.2 1168.1,688.4 1170.0,687.4 1172.0,685.0 1174.0,685.2 1175.6,694.2 1177.3,699.4 1178.9,708.7 1180.6,703.0 1182.3,699.2 1184.0,688.4 1185.7,683.3 1187.7,681.3 1189.6,682.3 1191.6,683.3 1193.6,701.3 1195.5,713.6 1197.5,728.3 1199.4,709.2 1201.4,691.7 1203.3,668.6 1204.9,681.3 1206.6,689.1 1208.2,697.0 1209.8,684.7 1211.5,677.1 1213.1,669.6 1214.7,662.3 1216.4,660.4 1218.0,653.9 1220.0,670.1 1221.9,681.3 1223.9,693.1 1225.6,692.9 1227.3,690.3 1229.0,685.5 1230.7,687.2 1232.7,692.2 1234.7,690.8 1236.6,694.5 1238.6,697.0 1240.5,689.2 1242.5,683.4 1244.4,675.5 1246.4,679.0 1248.3,687.5 1250.3,691.3 1252.3,695.0 1254.2,694.4 1256.2,697.7 1258.1,702.9 1259.7,691.8 1261.4,682.6 1263.0,677.4 1264.7,686.4 1266.5,687.6 1268.2,693.8 1269.9,699.9 1271.8,692.1 1273.8,689.2 1275.7,685.2 1277.7,693.9 1279.6,702.0 1281.6,708.7 1283.3,698.2 1285.0,689.7 1286.8,686.2 1288.5,675.5 1290.1,678.2 1291.7,670.7 1293.3,673.5 1295.2,677.3 1297.0,679.1 1298.9,681.2 1300.8,687.0 1302.7,685.6 1304.7,683.7 1306.6,685.0 1308.6,677.8 1310.5,662.5 1312.5,654.7 1314.5,673.0 1316.4,692.9 1318.3,687.2 1320.3,681.1 1322.2,693.9 1324.2,706.6 1325.9,701.2 1327.7,693.9 1329.4,682.9 1331.1,675.3 1332.7,684.8 1334.4,688.6 1336.0,694.8 1338.0,699.6 1339.9,697.1 1341.9,702.7 1343.3,684.2 1344.8,671.4 1346.8,702.5 1348.7,728.1 1350.3,712.3 1352.0,695.6 1353.6,679.2 1355.2,684.5 1356.9,688.9 1358.5,689.0 1360.1,682.4 1361.8,672.1 1363.4,659.6 1365.3,685.2 1367.3,714.4 1368.8,692.2 1370.2,665.5 1372.2,669.9 1374.1,669.7 1376.1,671.4 1378.1,674.9 1380.0,670.4 1382.0,673.3 1384.0,682.5 1385.9,689.7 1387.8,698.6 1389.8,702.7 1391.5,700.4 1393.2,690.2 1395.0,686.2 1396.7,683.1 1398.3,670.4 1399.9,663.7 1401.5,652.8 1403.5,665.5 1405.5,680.0 1407.4,696.0 1409.4,707.6 1411.3,688.3 1413.3,671.4 1415.3,679.4 1417.2,680.3 1419.2,688.7 1421.1,694.5 1423.1,698.7 1425.0,698.5 1427.0,694.6 1428.9,698.6 1430.9,695.4 1432.8,697.5 1434.8,694.8 1436.8,675.8 1438.7,659.9 1440.7,642.0 1442.7,671.6 1444.6,705.6 1446.5,701.3 1448.5,691.5 1450.5,686.7 1452.4,683.1 1454.4,679.9 1456.3,680.5 1458.3,679.2 1459.9,664.8 1461.6,658.7 1463.2,644.0 1465.4,651.4 1467.6,652.3 1469.8,659.4 1472.0,665.5 1474.0,660.6 1475.9,657.2 1477.9,657.7 1479.8,671.1 1481.8,686.8 1483.7,698.7 1485.7,681.7 1487.7,659.6 1489.7,669.7 1491.6,681.1 1493.5,672.2 1495.5,665.5 1497.5,666.3 1499.4,662.7 1501.4,657.7 1503.4,656.9 1505.3,654.8 1507.2,654.3 1509.2,653.7 1511.2,651.9 1513.1,655.6 1515.0,649.9 1517.0,652.8 1518.6,650.8 1520.3,648.0 1521.9,644.0 1523.9,660.2 1525.8,677.5 1527.8,693.5 1529.7,708.5 1531.7,696.6 1533.7,686.3 1535.6,676.0 1537.6,660.6 1539.3,665.4 1541.0,669.1 1542.7,674.0 1544.4,675.3 1546.0,664.1 1547.7,651.3 1549.3,641.0 1551.2,652.0 1553.2,659.2 1555.1,668.4 1557.1,675.3 1558.8,658.6 1560.5,635.6 1562.3,619.6 1564.0,598.9 1565.9,620.8 1567.9,640.5 1569.8,663.5 1571.8,651.5 1573.7,634.6 1575.7,618.5 1577.7,621.7 1579.6,623.6 1581.6,628.3 1583.6,618.8 1585.5,608.3 1587.5,593.1 1589.1,611.9 1590.7,629.8 1592.3,643.0 1594.3,630.5 1596.3,612.6 1598.0,630.0 1599.7,640.9 1601.4,659.4 1603.1,671.4 1605.0,636.0 1607.0,606.8 1608.7,606.1 1610.5,601.6 1612.2,597.7 1613.9,593.1 1615.5,603.1 1617.2,612.4 1618.8,627.3 1620.7,615.5 1622.7,605.8 1624.6,598.9 1626.6,602.2 1628.6,602.9 1630.2,610.3 1631.8,619.0 1633.4,631.2 1635.4,599.0 1637.4,565.7 1639.4,573.6 1641.3,587.6 1643.2,595.6 1645.2,603.8 1646.8,596.8 1648.5,589.0 1650.1,581.3 1652.0,580.1 1654.0,581.1 1656.0,584.5 1657.9,585.2 1659.9,575.9 1661.8,566.3 1663.8,549.8 1665.7,538.7 1667.7,530.5 1669.3,558.1 1670.9,578.3 1672.5,604.4 1674.5,585.4 1676.4,572.0 1678.4,554.5 1680.0,557.7 1681.7,553.2 1683.3,557.4 1685.2,557.1 1687.2,556.4 1689.2,545.2 1691.1,533.9 1692.9,530.8 1694.6,525.7 1696.4,520.7 1698.1,516.7 1699.9,510.5 1701.6,508.1 1703.3,504.6 1705.1,503.6 1706.8,502.6 1708.5,509.1 1710.2,515.5 1711.9,516.9 1713.6,522.2 1715.2,514.6 1716.9,514.2 1718.5,506.5 1720.5,505.5 1722.4,497.8 1724.4,494.8 1726.3,503.4 1728.3,514.4 1729.9,510.1 1731.6,501.1 1733.2,491.9 1734.9,503.7 1736.6,521.1 1738.3,539.6 1740.0,551.5 1741.6,525.5 1743.3,500.9 1744.9,473.3 1746.9,498.0 1748.8,514.5 1750.8,539.8 1753.0,539.4 1755.2,532.5 1757.4,529.3 1759.6,528.1 1761.6,526.7 1763.5,528.4 1765.5,527.1 1767.1,516.3 1768.8,512.1 1770.4,502.6 1772.3,533.2 1774.3,569.2 1776.2,565.9 1778.2,559.1 1780.1,559.7 1782.1,553.5 1783.8,567.2 1785.5,575.9 1787.2,590.3 1788.9,600.5 1790.5,590.8 1792.2,575.6 1793.8,561.3 1795.5,569.9 1797.2,574.0 1799.0,584.8 1800.7,592.6 1802.7,590.0 1804.6,583.4 1806.5,584.4 1808.5,578.0 1810.5,594.4 1812.4,606.3 1814.4,608.6 1816.3,603.7 1818.3,605.6 1820.3,602.4 1821.9,607.9 1823.5,612.5 1825.1,618.1 1827.1,624.7 1829.0,621.3 1831.0,627.9 1832.6,622.0 1834.3,611.3 1835.9,604.4 1837.6,614.5 1839.3,625.5 1841.1,632.9 1842.8,643.5 1844.8,630.8 1846.7,623.7 1848.6,610.0 1850.6,601.4 1852.6,610.3 1854.5,612.7 1856.5,621.1 1858.4,622.9 1860.4,629.8 1862.4,625.6 1864.3,614.3 1866.2,608.5 1868.2,604.4 1869.8,613.0 1871.5,620.0 1873.1,624.0 1875.0,620.4 1877.0,621.0 1879.0,621.8 1880.9,620.0 1882.6,616.3 1884.3,609.7 1886.1,606.6 1887.8,601.4 1889.7,611.5 1891.7,625.8 1893.6,641.6 1895.4,636.6 1897.1,626.4 1898.9,620.3 1900.6,615.0 1902.4,611.2 1904.4,643.7 1906.4,670.9 1908.3,660.3 1910.3,649.6 1912.2,643.5 1914.2,639.0 1916.1,637.1 1918.1,632.2 1920.0,631.3 1922.0,628.8 1924.0,637.2 1925.9,650.3 1927.8,659.6 1929.8,670.9 1931.8,658.0 1933.8,649.2 1935.7,634.6 1937.7,623.0 1939.4,628.5 1941.1,636.6 1942.8,642.4 1944.5,651.4 1946.1,657.1 1947.8,656.8 1949.4,661.1 1950.8,650.1 1952.3,641.6 1954.3,665.4 1956.3,684.6 1958.0,681.7 1959.7,677.0 1961.4,674.3 1963.1,667.0 1964.7,657.9 1966.4,652.9 1968.0,645.5 1970.0,646.7 1971.9,643.8 1973.9,647.4 1975.5,658.2 1977.2,671.4 1978.8,687.6 1980.4,667.0 1982.1,650.7 1983.7,630.8 1985.7,645.4 1987.6,656.7 1989.5,665.9 1991.5,680.7 1993.5,670.8 1995.4,663.9 1997.4,659.2 1999.0,659.7 2000.7,668.5 2002.3,670.9 2004.2,674.5 2006.2,679.3 2008.1,680.7 2010.0,662.7 2012.0,651.4 2013.8,679.6 2015.6,710.1 2017.2,677.2 2018.9,650.4" stroke="#4677c0" stroke-width="5.6"/>
<polyline points="135.9,520.3 137.9,524.9 139.8,526.1 141.8,531.0 143.7,531.1 145.7,533.3 147.6,535.9 149.6,535.5 151.5,533.9 153.4,531.7 155.4,531.0 157.1,518.8 158.9,502.6 160.6,486.9 162.3,475.3 164.2,479.4 166.2,485.0 168.1,493.6 170.1,499.7 172.1,499.2 174.0,498.8 176.0,496.8 177.7,499.7 179.4,498.6 181.1,500.4 182.8,502.7 185.0,488.3 187.2,477.2 189.4,465.3 191.6,452.8 193.6,461.0 195.5,470.0 197.5,475.3 199.5,474.3 201.4,475.0 203.4,477.2 205.0,488.6 206.7,496.2 208.3,506.6 210.2,506.5 212.2,507.6 214.1,492.2 216.1,482.1 217.7,486.8 219.4,487.4 221.0,490.9 222.9,506.8 224.9,519.3 226.4,496.8 227.8,477.2 229.4,480.2 231.1,477.4 232.7,478.2 234.7,471.6 236.7,461.6 238.3,467.1 239.9,479.7 241.5,486.0 243.5,491.5 245.5,501.7 247.1,494.9 248.8,487.8 250.4,483.1 251.9,489.0 253.3,492.9 254.9,484.0 256.6,475.0 258.2,470.4 260.2,467.6 262.1,468.0 264.1,470.4 265.7,469.9 267.3,468.2 268.9,464.5 270.5,475.3 272.2,479.9 273.8,489.0 275.4,484.2 277.1,479.1 278.7,472.3 280.7,461.6 282.6,454.5 284.6,445.9 286.6,448.2 288.5,447.9 290.4,443.7 292.4,444.9 294.4,451.3 296.3,460.7 298.3,465.5 299.9,465.1 301.6,459.4 303.2,455.7 305.1,458.4 307.1,461.6 309.1,460.7 311.0,468.2 313.0,467.4 314.9,434.2 316.5,436.1 318.2,444.4 319.8,448.8 321.8,456.8 323.7,461.6 325.3,455.1 327.0,453.7 328.6,450.8 330.6,458.6 332.5,472.5 334.5,482.1 336.1,476.1 337.8,471.9 339.4,463.5 341.0,458.0 342.7,447.9 344.3,444.0 346.0,448.8 347.7,454.9 349.4,456.3 351.1,462.5 353.1,461.2 355.0,462.3 357.0,460.6 358.4,471.4 359.9,477.2 361.5,467.7 363.2,457.9 364.8,449.8 366.8,437.4 368.7,424.4 370.7,435.6 372.7,447.9 374.3,443.0 376.0,436.4 377.6,432.2 379.6,448.3 381.5,458.6 382.9,443.1 384.4,429.3 386.4,441.4 388.3,447.9 389.9,456.8 391.6,460.9 393.2,468.4 395.2,460.9 397.1,458.9 399.1,453.7 401.1,456.8 403.0,455.8 405.0,455.7 406.9,457.9 408.9,458.6 410.8,450.7 412.8,441.7 414.8,436.2 416.7,428.3 418.7,446.0 420.6,465.7 422.6,485.0 424.6,469.2 426.5,448.8 428.2,445.7 429.9,443.7 431.6,442.9 433.3,444.0 435.3,446.7 437.2,445.4 439.2,446.0 441.2,443.0 443.1,446.9 445.1,450.4 447.0,455.7 448.9,442.1 450.9,434.2 452.9,430.1 454.9,425.4 456.8,419.5 458.8,416.6 460.7,419.1 462.7,414.3 464.6,417.5 466.6,426.7 468.5,430.9 470.5,438.1 472.4,432.5 474.4,422.4 476.0,423.4 477.7,429.0 479.3,432.2 481.2,429.7 483.2,432.2 485.2,425.3 487.1,417.6 489.1,414.2 491.1,405.8 493.0,407.1 495.0,412.0 496.9,416.6 498.4,420.0 499.9,419.5 501.5,409.8 503.2,398.3 504.8,387.2 506.7,385.9 508.7,385.3 510.6,380.4 512.2,375.0 513.9,368.3 515.5,363.7 517.0,365.0 518.5,361.8 520.1,359.3 521.7,359.8 523.7,342.6 525.7,330.5 527.3,316.7 528.9,298.9 530.5,282.5 532.5,285.8 534.5,293.3 536.1,294.4 537.8,291.9 539.4,288.4 541.0,298.0 542.6,310.3 544.2,316.8 546.2,325.1 548.1,337.9 550.1,346.1 552.1,402.9 554.0,405.4 556.0,409.2 557.9,412.6 559.6,416.1 561.3,411.4 563.1,412.8 564.8,414.6 566.8,423.8 568.7,437.1 570.3,434.7 572.0,434.0 573.6,432.2 575.6,437.0 577.5,440.3 579.5,442.0 581.1,441.1 582.8,437.9 584.4,432.2 586.0,422.1 587.7,412.8 589.3,405.8 590.9,421.5 592.5,433.2 594.1,446.9 596.1,447.3 598.0,441.5 600.0,443.0 601.6,427.6 603.3,417.6 604.9,402.9 606.9,416.2 608.8,435.9 610.8,449.8 612.4,451.0 614.1,445.5 615.7,445.9 617.3,435.0 619.0,426.0 620.6,419.5 622.2,422.6 623.9,427.7 625.5,433.2 627.5,443.7 629.4,448.8 631.0,444.7 632.7,437.3 634.3,432.2 636.2,431.5 638.2,433.2 640.2,441.9 642.1,449.8 643.8,445.0 645.5,444.3 647.2,441.1 648.9,436.1 651.1,430.5 653.2,432.2 655.4,426.5 657.5,423.5 659.7,419.5 661.4,421.6 663.2,422.5 664.9,419.1 666.6,422.4 668.5,426.8 670.5,430.9 672.4,437.1 674.0,431.9 675.7,426.2 677.3,424.4 678.9,421.7 680.6,422.2 682.2,417.5 683.8,423.8 685.5,437.4 687.1,444.0 688.5,433.9 690.0,420.5 692.0,405.9 694.0,397.0 695.5,412.7 696.9,430.3 698.9,418.3 700.8,407.3 702.8,395.0 704.8,402.1 706.7,409.7 708.2,403.7 709.6,393.1 711.2,398.1 712.9,404.8 714.5,410.7 716.1,418.0 717.8,424.5 719.4,434.2 721.3,421.6 723.3,404.8 725.2,399.6 727.2,398.9 729.2,412.5 731.1,420.5 733.1,415.9 735.0,409.3 737.0,400.9 738.6,403.4 740.3,405.3 741.9,408.7 743.8,414.8 745.8,424.4 747.8,416.7 749.7,408.7 751.3,413.8 753.0,414.0 754.6,420.5 756.2,417.3 757.9,415.1 759.5,416.6 761.5,424.5 763.4,426.6 765.4,435.1 767.3,424.9 769.3,420.5 771.2,424.2 773.2,422.4 774.8,422.8 776.5,425.7 778.1,426.3 779.7,431.0 781.4,438.8 783.0,441.0 784.7,439.5 786.4,437.7 788.1,435.8 789.8,430.3 791.8,428.0 793.8,428.2 795.7,427.7 797.7,430.3 799.3,432.1 801.0,433.8 802.6,437.1 804.0,447.8 805.5,456.7 807.0,446.4 808.4,442.0 810.3,451.5 812.3,461.6 814.3,455.6 816.3,444.9 818.2,446.5 820.2,444.9 821.8,443.2 823.5,435.0 825.1,432.2 826.7,432.2 828.4,435.9 830.0,438.1 832.0,434.7 833.9,436.1 835.8,447.4 837.8,455.7 839.4,456.8 841.1,464.3 842.7,467.4 844.7,465.6 846.6,457.8 848.6,455.7 850.5,454.8 852.5,460.5 854.4,459.6 855.9,473.9 857.4,483.1 859.3,474.4 861.3,460.1 863.2,451.8 864.8,454.8 866.5,456.0 868.1,460.6 869.6,450.4 871.1,439.1 873.0,449.4 875.0,455.7 876.6,451.2 878.3,448.6 879.9,444.9 881.8,446.4 883.8,453.7 885.4,459.1 887.1,465.9 888.7,469.4 890.3,471.9 892.0,479.0 893.6,482.1 895.2,476.6 896.9,474.5 898.5,470.4 900.1,474.9 901.7,477.5 903.3,479.2 904.6,473.3 905.9,471.5 907.8,474.3 909.8,477.8 911.7,477.4 913.7,478.3 915.6,472.8 917.6,472.5 919.3,469.7 921.0,472.7 922.8,467.5 924.5,467.6 926.4,474.8 928.4,482.1 930.3,491.1 931.9,484.9 933.6,477.0 935.2,471.5 936.8,470.7 938.5,468.1 940.1,464.7 941.7,466.1 943.4,473.4 945.0,476.4 946.6,470.4 948.3,464.2 949.9,459.8 951.3,477.3 952.8,493.1 954.8,481.0 956.8,468.6 958.7,470.4 960.7,472.3 962.6,470.6 964.2,470.8 965.9,466.6 967.5,467.6 969.1,466.8 970.8,461.2 972.4,457.8 974.4,467.6 976.3,481.8 978.3,495.0 980.2,483.5 982.2,472.5 983.8,474.0 985.5,473.6 987.1,471.5 989.3,469.5 991.5,462.0 993.7,463.4 995.9,456.9 997.5,469.2 999.2,474.7 1000.8,487.2 1002.4,481.5 1004.1,482.8 1005.7,477.4 1007.3,476.7 1009.0,478.0 1010.6,478.4 1012.0,482.1 1013.5,491.1 1015.5,468.1 1017.4,448.1 1019.0,452.6 1020.7,454.8 1022.3,461.8 1023.9,466.8 1025.6,470.9 1027.2,471.5 1028.7,469.2 1030.1,463.7 1032.1,469.7 1034.0,472.7 1036.0,473.5 1038.2,478.9 1040.4,480.3 1042.6,483.0 1044.8,485.2 1046.5,482.6 1048.2,481.1 1050.0,478.4 1051.7,476.4 1053.3,471.9 1055.0,469.8 1056.6,466.7 1058.5,464.5 1060.5,461.3 1062.4,455.9 1064.6,458.0 1066.8,458.4 1069.0,457.8 1071.2,459.8 1073.2,457.8 1075.1,453.0 1076.7,449.7 1078.4,446.0 1080.0,440.2 1082.0,446.1 1083.9,446.9 1085.9,452.0 1087.9,452.0 1089.8,459.6 1091.8,461.1 1093.7,463.7 1095.7,470.0 1097.6,470.4 1099.6,474.5 1101.2,477.2 1102.9,474.6 1104.5,477.4 1106.5,488.5 1108.4,498.0 1110.0,488.4 1111.7,480.4 1113.3,475.5 1115.2,481.6 1117.2,483.3 1119.2,491.2 1121.1,493.1 1123.1,484.9 1125.0,475.8 1127.0,466.7 1128.6,471.6 1130.3,472.9 1131.9,477.4 1133.5,478.8 1135.2,485.6 1136.8,489.2 1138.4,479.5 1140.1,472.8 1141.7,467.6 1143.3,468.6 1145.0,462.5 1146.6,462.7 1148.5,465.4 1150.5,465.1 1152.4,468.6 1154.4,470.6 1156.3,471.7 1158.3,475.5 1159.9,482.0 1161.6,485.7 1163.2,491.1 1165.2,479.2 1167.1,469.6 1169.0,479.1 1171.0,489.2 1173.0,470.7 1175.0,453.9 1176.6,462.3 1178.2,466.0 1179.8,475.5 1181.8,472.1 1183.7,468.1 1185.7,461.8 1187.4,455.0 1189.2,452.9 1190.9,450.7 1192.6,444.1 1194.5,454.9 1196.5,467.2 1198.4,477.4 1200.0,467.9 1201.7,460.5 1203.3,449.0 1204.9,459.4 1206.6,465.6 1208.2,471.5 1210.2,476.7 1212.1,480.7 1214.1,487.2 1215.7,484.3 1217.4,473.9 1219.0,469.6 1220.6,466.3 1222.3,466.6 1223.9,463.7 1225.5,461.6 1227.2,457.0 1228.8,457.8 1230.7,463.3 1232.7,468.0 1234.6,477.4 1236.6,479.7 1238.5,488.2 1240.5,489.2 1242.5,477.4 1244.4,466.7 1246.3,463.0 1248.3,453.9 1249.9,452.5 1251.6,445.0 1253.2,444.1 1254.8,457.6 1256.5,465.9 1258.1,477.4 1260.0,470.1 1262.0,457.8 1263.6,459.0 1265.3,461.1 1266.9,466.7 1268.4,463.0 1269.9,455.9 1271.8,449.7 1273.8,448.0 1275.7,444.1 1277.3,452.7 1279.0,461.2 1280.6,471.5 1282.6,467.4 1284.5,465.8 1286.5,459.8 1288.1,462.6 1289.8,464.3 1291.4,463.7 1293.5,466.6 1295.6,467.1 1297.7,468.4 1299.8,467.4 1301.8,458.9 1303.7,447.9 1305.7,451.2 1307.6,455.7 1309.6,455.7 1311.5,451.0 1313.5,445.9 1315.5,445.3 1317.4,443.8 1319.4,440.0 1321.3,463.4 1323.3,483.1 1324.9,474.6 1326.6,460.4 1328.2,450.8 1329.8,452.1 1331.5,456.0 1333.1,457.7 1334.7,461.8 1336.3,460.7 1337.9,461.6 1339.5,456.9 1341.2,453.9 1342.8,446.9 1344.8,452.1 1346.7,460.7 1348.7,465.5 1350.3,470.3 1352.0,482.9 1353.6,488.0 1355.6,482.6 1357.5,473.9 1359.5,465.5 1361.5,459.3 1363.4,453.7 1365.1,452.5 1366.8,447.2 1368.5,441.3 1370.2,438.1 1372.2,447.0 1374.1,456.9 1376.1,467.4 1378.0,474.0 1380.0,479.2 1382.0,469.4 1383.9,455.6 1385.9,443.0 1387.9,448.6 1389.8,460.8 1391.8,465.5 1393.7,468.0 1395.7,471.1 1397.6,477.2 1399.2,472.5 1400.9,462.8 1402.5,455.7 1404.5,452.1 1406.4,445.5 1408.4,444.9 1410.0,440.4 1411.7,440.8 1413.3,440.0 1415.3,445.6 1417.2,456.4 1419.2,465.5 1421.1,458.4 1423.1,452.3 1425.0,448.8 1427.0,452.4 1428.9,461.4 1430.9,465.5 1432.5,468.5 1434.2,473.2 1435.8,477.2 1437.4,470.6 1439.1,468.1 1440.7,465.5 1442.7,465.4 1444.6,466.5 1446.6,467.4 1448.5,458.2 1450.5,448.7 1452.4,436.1 1454.3,446.8 1456.3,459.6 1458.3,454.9 1460.2,445.7 1462.2,438.1 1464.4,448.7 1466.6,454.2 1468.8,463.9 1471.0,472.3 1472.6,462.4 1474.3,454.0 1475.9,446.9 1477.9,452.8 1479.8,457.1 1481.8,463.5 1483.7,435.1 1485.7,431.8 1487.6,429.0 1489.6,424.4 1491.6,431.7 1493.5,441.2 1495.5,447.9 1497.5,450.0 1499.4,447.4 1501.4,446.9 1503.4,443.0 1505.3,435.6 1507.2,435.0 1509.2,428.3 1511.1,432.3 1513.1,440.3 1515.0,442.0 1516.6,443.7 1518.3,441.2 1519.9,440.0 1521.5,450.1 1523.2,456.3 1524.8,465.5 1526.8,457.8 1528.7,447.4 1530.7,440.0 1532.3,442.1 1534.0,449.5 1535.6,452.8 1537.2,449.8 1538.9,446.7 1540.5,447.9 1542.5,436.0 1544.4,425.4 1546.4,431.4 1548.3,430.5 1550.3,437.1 1552.2,426.1 1554.2,416.6 1556.2,417.7 1558.1,427.0 1560.1,428.3 1561.8,426.4 1563.5,417.5 1565.2,417.1 1566.9,411.7 1568.5,415.9 1570.2,419.9 1571.8,428.3 1573.8,424.3 1575.7,421.7 1577.7,415.6 1579.3,407.0 1581.0,406.1 1582.6,397.0 1584.2,408.0 1585.9,417.7 1587.5,428.3 1589.1,419.8 1590.7,415.1 1592.3,404.8 1593.8,415.8 1595.3,428.3 1597.2,412.2 1599.2,393.1 1601.2,384.4 1603.1,381.3 1604.7,380.4 1606.4,381.3 1608.0,385.2 1609.6,378.9 1611.3,374.8 1612.9,367.6 1614.5,360.0 1616.2,359.7 1617.8,353.0 1619.5,355.1 1621.2,358.7 1622.9,361.9 1624.6,365.7 1626.6,360.5 1628.5,360.1 1630.5,353.9 1632.5,349.2 1634.4,350.0 1636.4,344.1 1638.4,345.9 1640.3,344.3 1642.3,344.1 1644.2,334.8 1646.2,319.9 1648.1,311.4 1650.1,299.1 1651.7,313.3 1653.4,325.8 1655.0,336.3 1657.0,313.6 1658.9,294.2 1660.5,298.9 1662.2,310.5 1663.8,314.8 1665.9,306.5 1667.9,293.8 1670.0,287.5 1671.7,297.8 1673.4,309.4 1675.1,320.6 1676.6,304.3 1678.1,286.5 1679.8,282.1 1681.6,273.1 1683.3,268.2 1685.1,264.4 1686.8,272.8 1688.4,284.0 1690.1,290.5 1691.6,279.6 1693.1,270.5 1695.1,265.3 1697.1,265.0 1699.1,260.4 1700.8,256.1 1702.4,245.0 1704.1,240.4 1705.8,236.6 1707.4,232.5 1709.1,229.4 1711.1,234.0 1713.1,231.3 1715.1,235.4 1716.8,237.4 1718.4,237.2 1720.1,237.4 1722.1,259.3 1724.1,277.5 1725.8,261.8 1727.5,247.8 1729.2,235.4 1730.7,252.3 1732.2,264.4 1734.2,253.6 1736.2,248.9 1738.2,237.4 1740.2,240.2 1742.2,247.4 1744.2,243.7 1746.2,244.6 1748.2,242.4 1750.2,250.7 1752.2,263.4 1754.0,268.4 1755.7,270.3 1757.5,269.4 1759.2,274.5 1761.2,306.5 1763.2,298.3 1765.2,294.5 1766.9,302.6 1768.5,310.0 1770.2,316.6 1771.9,313.5 1773.6,303.5 1775.3,300.5 1777.3,315.6 1779.3,326.6 1781.3,321.8 1783.3,316.6 1785.0,320.9 1786.6,327.6 1788.3,330.6 1790.3,330.7 1792.3,332.6 1794.3,333.6 1796.4,339.5 1798.6,343.2 1800.7,350.0 1802.4,349.1 1804.1,344.3 1805.8,337.8 1807.5,337.3 1809.1,348.3 1810.8,357.1 1812.4,365.7 1813.9,374.5 1815.4,389.2 1816.8,378.2 1818.3,363.7 1820.0,363.0 1821.7,365.2 1823.4,369.5 1825.1,369.6 1827.1,374.2 1829.0,379.2 1831.0,389.3 1833.0,393.1 1834.9,391.9 1836.9,392.4 1838.8,395.0 1840.8,386.0 1842.8,381.3 1844.7,392.5 1846.7,402.0 1848.6,412.6 1850.6,400.4 1852.5,383.4 1854.5,369.6 1856.5,373.2 1858.4,379.8 1860.4,386.2 1862.0,388.8 1863.7,391.0 1865.3,390.1 1867.0,395.5 1868.7,399.7 1870.4,402.9 1872.1,410.7 1873.7,400.0 1875.4,388.4 1877.0,381.3 1878.7,388.0 1880.5,391.0 1882.2,393.0 1883.9,400.9 1885.8,398.3 1887.8,401.0 1889.7,397.0 1891.7,395.8 1893.6,395.0 1895.6,393.1 1897.3,401.0 1899.0,409.3 1900.7,414.7 1902.4,422.4 1904.4,417.0 1906.3,406.2 1908.3,398.9 1910.5,403.8 1912.7,416.5 1914.9,422.7 1917.1,428.3 1918.8,415.3 1920.5,406.4 1922.3,396.3 1924.0,387.2 1925.6,395.9 1927.3,397.9 1928.9,407.7 1930.6,401.8 1932.3,395.8 1934.0,388.3 1935.7,381.3 1937.7,395.2 1939.6,409.8 1941.6,428.3 1943.6,424.8 1945.5,422.8 1947.5,420.5 1949.2,421.8 1950.9,417.1 1952.6,417.5 1954.3,413.6 1956.2,417.0 1958.2,426.3 1959.8,436.7 1961.5,441.1 1963.1,452.8 1965.0,428.8 1967.0,404.8 1969.0,419.4 1970.9,436.1 1972.9,416.9 1974.9,395.0 1976.8,400.9 1978.8,406.7 1980.7,412.6 1982.7,420.8 1984.7,426.5 1986.6,436.4 1988.6,444.9 1990.5,437.8 1992.5,430.1 1994.4,426.3 1996.4,427.2 1998.3,424.9 2000.3,420.5 2001.9,426.8 2003.6,435.6 2005.2,446.9 2006.7,438.1 2008.1,432.2 2010.0,432.2 2012.0,438.1 2014.0,432.4 2015.9,426.3" stroke="#4a1f82" stroke-width="5.8"/>
<polyline points="139.0,362.6 142.0,358.6 148.0,378.7 153.0,322.6 157.1,396.7 165.1,300.5 169.1,356.6 173.1,342.6 177.1,293.5 181.1,310.5 193.1,310.5 198.1,268.5 202.1,268.5 206.2,282.5 210.2,282.5 214.2,243.4 223.2,356.6 230.2,268.5 234.2,267.5 243.2,226.4 250.2,250.4 255.3,310.5 260.3,280.5 265.3,308.5 272.3,229.4 277.3,298.5 284.3,242.4 289.3,294.5 296.3,219.4 301.3,250.4 309.4,191.3 313.4,261.4 317.4,232.4 322.0,276.5 325.4,230.4 329.4,276.5 334.4,215.4 341.4,261.4 346.4,262.4 350.4,277.5 355.5,214.3 359.5,264.4 363.5,266.5 367.5,216.4 372.5,225.4 375.5,225.4 379.5,250.4 387.5,160.2 394.5,246.4 399.5,186.3 403.5,277.5 412.6,212.3 415.6,214.3 420.6,186.3 428.6,259.4 432.6,165.3 435.6,172.3 439.6,216.4 444.6,216.4 448.6,246.4 453.6,246.4 457.7,181.3 460.7,219.4 465.1,169.3 468.7,188.3 472.7,247.4 481.7,151.2 485.7,203.3 489.7,119.2 493.7,176.3 496.7,152.2 501.7,151.2 509.8,106.1 517.8,66.1 522.0,102.1 530.0,103.1 535.1,130.2 540.1,136.2 547.1,91.1 551.1,199.3 556.1,142.2 559.1,188.3 567.1,154.2 574.1,228.4 580.1,154.2 591.2,202.3 596.2,165.3 600.2,222.4 604.2,203.3 613.2,203.3 617.2,212.3 622.2,235.4 628.2,168.3 636.3,310.5 641.3,258.4 644.3,258.4 653.3,208.3 656.3,206.3 660.3,172.3 664.3,196.3 672.3,237.4 676.3,196.3 680.3,212.3 684.3,260.4 687.4,204.3 692.4,274.5 700.4,201.3 703.4,211.3 707.4,214.3 712.4,244.4 716.4,168.3 721.4,204.3 725.4,194.3 729.4,232.4 732.4,165.3 736.5,198.3 740.5,154.2 744.5,249.4 748.5,190.3 752.5,226.4 757.5,181.3 760.5,238.4 764.5,213.3 768.5,226.4 771.5,226.4 776.5,280.5 781.5,204.3 787.6,230.4 792.6,266.5 798.6,203.3 804.6,203.3 808.6,220.4 812.6,207.3 820.6,242.4 825.6,318.6 832.6,215.4 837.7,254.4 842.7,282.5 848.7,256.4 854.7,270.5 859.7,269.5 864.7,321.6 868.7,214.3 872.7,276.5 875.7,249.4 880.7,249.4 887.8,211.3 893.8,252.4 898.8,293.5 903.8,252.4 908.8,254.6 916.6,222.3 920.5,274.2 925.4,260.5 931.3,287.9 937.2,329.9 941.1,249.7 947.9,288.8 952.8,284.9 959.7,301.6 964.6,275.1 971.4,303.5 977.3,274.2 985.1,311.4 990.0,273.2 995.9,268.3 1003.7,209.6 1007.6,313.3 1016.4,270.3 1021.3,286.9 1028.2,252.6 1031.1,308.4 1036.0,233.1 1040.9,293.7 1043.8,288.8 1048.7,315.3 1054.6,310.4 1060.5,263.4 1067.3,240.9 1071.2,346.6 1077.1,242.9 1080.0,266.3 1087.9,175.3 1090.8,299.6 1099.6,256.6 1104.5,282.0 1111.4,205.7 1114.3,215.5 1119.2,295.7 1123.1,276.1 1126.0,309.4 1129.9,213.5 1138.7,337.8 1144.6,276.1 1146.6,278.1 1154.4,216.4 1158.3,258.5 1166.1,244.8 1172.0,270.3 1177.9,209.6 1183.8,271.2 1189.6,260.5 1193.5,271.2 1201.4,235.0 1207.2,266.3 1212.1,287.9 1217.0,235.0 1221.9,305.5 1226.8,248.7 1232.7,211.5 1236.6,325.0 1241.5,260.5 1244.4,313.3 1252.3,272.2 1257.1,225.2 1260.1,250.7 1265.0,216.4 1268.9,280.0 1271.8,240.9 1276.7,270.3 1279.6,240.9 1282.6,295.7 1288.5,205.7 1292.4,237.0 1298.0,208.3 1301.0,260.4 1307.0,277.5 1318.1,232.4 1326.1,293.5 1330.1,214.3 1336.1,243.4 1343.1,244.4 1346.1,311.5 1354.1,206.3 1358.1,279.5 1384.2,298.5 1388.2,231.4 1392.2,244.4 1396.2,244.4 1400.2,299.5 1405.2,270.5 1409.2,262.4 1415.3,228.4 1420.3,166.3 1424.3,290.5 1427.3,185.3 1432.3,216.4 1436.3,222.4 1439.3,319.6 1448.3,272.5 1451.3,227.4 1455.3,240.4 1462.3,214.3 1466.4,260.4 1469.4,185.3 1473.4,218.4 1478.4,270.5 1481.4,215.4 1485.4,271.5 1489.4,224.4 1493.4,256.4 1498.4,234.4 1500.4,234.4 1505.4,209.3 1511.4,258.4 1516.5,215.4 1522.5,233.4 1528.5,234.4 1533.5,246.4 1536.5,232.4 1539.5,256.4 1543.5,197.3 1546.5,204.3 1550.5,189.3 1554.5,227.4 1558.5,151.2 1565.6,244.4 1570.6,220.4 1577.6,178.3 1582.6,232.4 1588.6,155.2 1594.6,212.3 1599.6,213.3 1601.6,188.3 1605.6,238.4 1612.6,130.2 1616.7,205.3 1620.7,160.2 1624.7,172.3 1628.7,216.4 1634.7,103.1 1640.7,210.3 1643.7,110.1 1646.7,157.2 1650.7,152.2 1654.7,133.2 1659.7,138.2 1665.8,76.1 1672.0,120.2 1678.1,170.3 1685.1,106.1 1689.1,136.2 1693.1,81.1 1697.1,98.1 1701.1,186.3 1705.1,112.1 1710.1,152.2 1714.1,153.2 1721.1,126.2 1727.2,124.2 1730.2,120.2 1735.2,74.1 1738.2,188.3 1743.2,157.2 1746.2,94.1 1754.2,156.2 1758.2,107.1 1763.2,124.2 1766.2,146.2 1770.2,144.2 1776.3,154.2 1780.3,236.4 1785.3,93.1 1790.3,152.2 1796.3,194.3 1800.3,130.2 1806.3,171.3 1810.3,108.1 1815.3,221.4 1819.3,155.2 1826.4,146.2 1830.4,174.3 1834.4,163.2 1838.4,168.3 1842.4,173.3 1848.4,166.3 1852.4,186.3 1856.4,133.2 1860.4,182.3 1864.4,146.2 1867.4,162.2 1871.4,150.2 1875.5,200.3 1880.5,160.2 1889.5,223.4 1893.5,178.3 1898.5,195.3 1901.5,137.2 1907.5,190.3 1912.5,193.3 1917.5,157.2 1920.5,194.3 1924.5,156.2 1927.6,192.3 1931.6,182.3 1936.6,246.4 1940.6,147.2 1944.6,154.2 1947.6,206.3 1950.6,139.2 1954.6,189.3 1958.6,141.2 1965.6,196.3 1973.6,140.2 1977.7,207.3 1980.7,208.3 1984.7,169.3 1988.7,235.4 1992.7,149.2 1998.7,202.3 2010.7,230.4 2019.7,248.4 2021.8,188.0" stroke="#f0434d" stroke-width="3.0"/>
</g>
<line x1="534.3" y1="47.5" x2="534.3" y2="1381" stroke="#5e5e5e" stroke-width="4.2"/>
<rect x="140.8" y="27.5" width="1883.0" height="1519.5" fill="none" stroke="#000" stroke-width="5"/>
<line x1="259.2" y1="1547" x2="259.2" y2="1560.5" stroke="#000" stroke-width="4"/>
<line x1="427.3" y1="1547" x2="427.3" y2="1576.5" stroke="#000" stroke-width="4"/>
<line x1="595.4" y1="1547" x2="595.4" y2="1560.5" stroke="#000" stroke-width="4"/>
<line x1="763.5" y1="1547" x2="763.5" y2="1576.5" stroke="#000" stroke-width="4"/>
<line x1="931.5" y1="1547" x2="931.5" y2="1560.5" stroke="#000" stroke-width="4"/>
<line x1="1099.6" y1="1547" x2="1099.6" y2="1576.5" stroke="#000" stroke-width="4"/>
<line x1="1267.7" y1="1547" x2="1267.7" y2="1560.5" stroke="#000" stroke-width="4"/>
<line x1="1435.8" y1="1547" x2="1435.8" y2="1576.5" stroke="#000" stroke-width="4"/>
<line x1="1603.9" y1="1547" x2="1603.9" y2="1560.5" stroke="#000" stroke-width="4"/>
<line x1="1771.9" y1="1547" x2="1771.9" y2="1576.5" stroke="#000" stroke-width="4"/>
<line x1="1940.0" y1="1547" x2="1940.0" y2="1560.5" stroke="#000" stroke-width="4"/>
<text x="427.3" y="1658.5" font-size="79.5" text-anchor="middle" font-family="Liberation Sans, Arial, sans-serif" fill="#000">400</text>
<text x="763.5" y="1658.5" font-size="79.5" text-anchor="middle" font-family="Liberation Sans, Arial, sans-serif" fill="#000">600</text>
<text x="1099.6" y="1658.5" font-size="79.5" text-anchor="middle" font-family="Liberation Sans, Arial, sans-serif" fill="#000">800</text>
<text x="1435.8" y="1658.5" font-size="79.5" text-anchor="middle" font-family="Liberation Sans, Arial, sans-serif" fill="#000">1000</text>
<text x="1771.9" y="1658.5" font-size="79.5" text-anchor="middle" font-family="Liberation Sans, Arial, sans-serif" fill="#000">1200</text>
<text x="691.5" y="1761.5" font-size="93.6" font-family="Liberation Sans, Arial, sans-serif" fill="#000">Raman shift (cm<tspan font-size="62" dy="-33">&#8722;</tspan><tspan font-size="64" font-weight="bold" dx="1" dy="-3.7">1</tspan><tspan dx="-4" dy="36.7">)</tspan></text>
<text transform="translate(93.5,1053.2) rotate(-90)" font-size="94" font-family="Liberation Sans, Arial, sans-serif" fill="#000">Intensity (a.u.)</text>
<text x="824.9" y="168.5" font-size="64.5" font-weight="bold" font-family="Liberation Sans, Arial, sans-serif" fill="#ee3d47"><tspan>BaMnO</tspan><tspan font-size="41" dx="0" dy="17">3</tspan><tspan dy="-17">-CeO</tspan><tspan font-size="41" dx="0" dy="17">2</tspan><tspan dy="-17">-O</tspan></text>
<text x="798.4" y="407.7" font-size="64.5" font-weight="bold" font-family="Liberation Sans, Arial, sans-serif" fill="#4a1f82"><tspan>BaMnO</tspan><tspan font-size="41" dx="0" dy="17">3</tspan><tspan dy="-17">-CeO</tspan><tspan font-size="41" dx="0" dy="17">2</tspan><tspan dy="-17">-M-800</tspan></text>
<text x="801.2" y="586" font-size="64.5" font-weight="bold" font-family="Liberation Sans, Arial, sans-serif" fill="#4575bf"><tspan>BaMnO</tspan><tspan font-size="41" dx="0" dy="17">3</tspan><tspan dy="-17">-CeO</tspan><tspan font-size="41" dx="0" dy="17">2</tspan><tspan dy="-17">-M-700</tspan></text>
<text x="829.9" y="823.6" font-size="64.5" font-weight="bold" font-family="Liberation Sans, Arial, sans-serif" fill="#4fa652"><tspan>BaMnO</tspan><tspan font-size="41" dx="0" dy="17">3</tspan><tspan dy="-17">-CeO</tspan><tspan font-size="41" dx="0" dy="17">2</tspan><tspan dy="-17">-M-600</tspan></text>
<text x="858.7" y="994.8" font-size="64.5" font-weight="bold" font-family="Liberation Sans, Arial, sans-serif" fill="#c9b47c"><tspan>BaMnO</tspan><tspan font-size="41" dx="0" dy="17">3</tspan><tspan dy="-17">-CeO</tspan><tspan font-size="41" dx="0" dy="17">2</tspan><tspan dy="-17">-M</tspan></text>
<text x="905.2" y="1170" font-size="71" font-weight="bold" font-family="Liberation Sans, Arial, sans-serif" fill="#000000"><tspan>BaMnO</tspan><tspan font-size="45.5" dx="0" dy="20">3</tspan></text>
<text x="385.9" y="1383.4" font-size="78" font-weight="bold" font-family="Liberation Sans, Arial, sans-serif" fill="#8c8c8c"><tspan>F</tspan><tspan font-size="53" dx="1.5" dy="21">2g</tspan></text>
<text x="712.5" y="1419" font-size="76" font-weight="bold" font-family="Liberation Sans, Arial, sans-serif" fill="#8c8c8c"><tspan>D</tspan></text>
<text x="904" y="1455.5" font-size="63.5" font-weight="bold" font-family="Liberation Sans, Arial, sans-serif" fill="#8c8c8c"><tspan>CeO</tspan><tspan font-size="43" dx="0" dy="17">2</tspan></text>
<text x="1648.3" y="1335" font-size="79.5" font-weight="bold" font-family="Liberation Sans, Arial, sans-serif" fill="#8c8c8c"><tspan>2LO</tspan></text>
</svg>
</body></html>
